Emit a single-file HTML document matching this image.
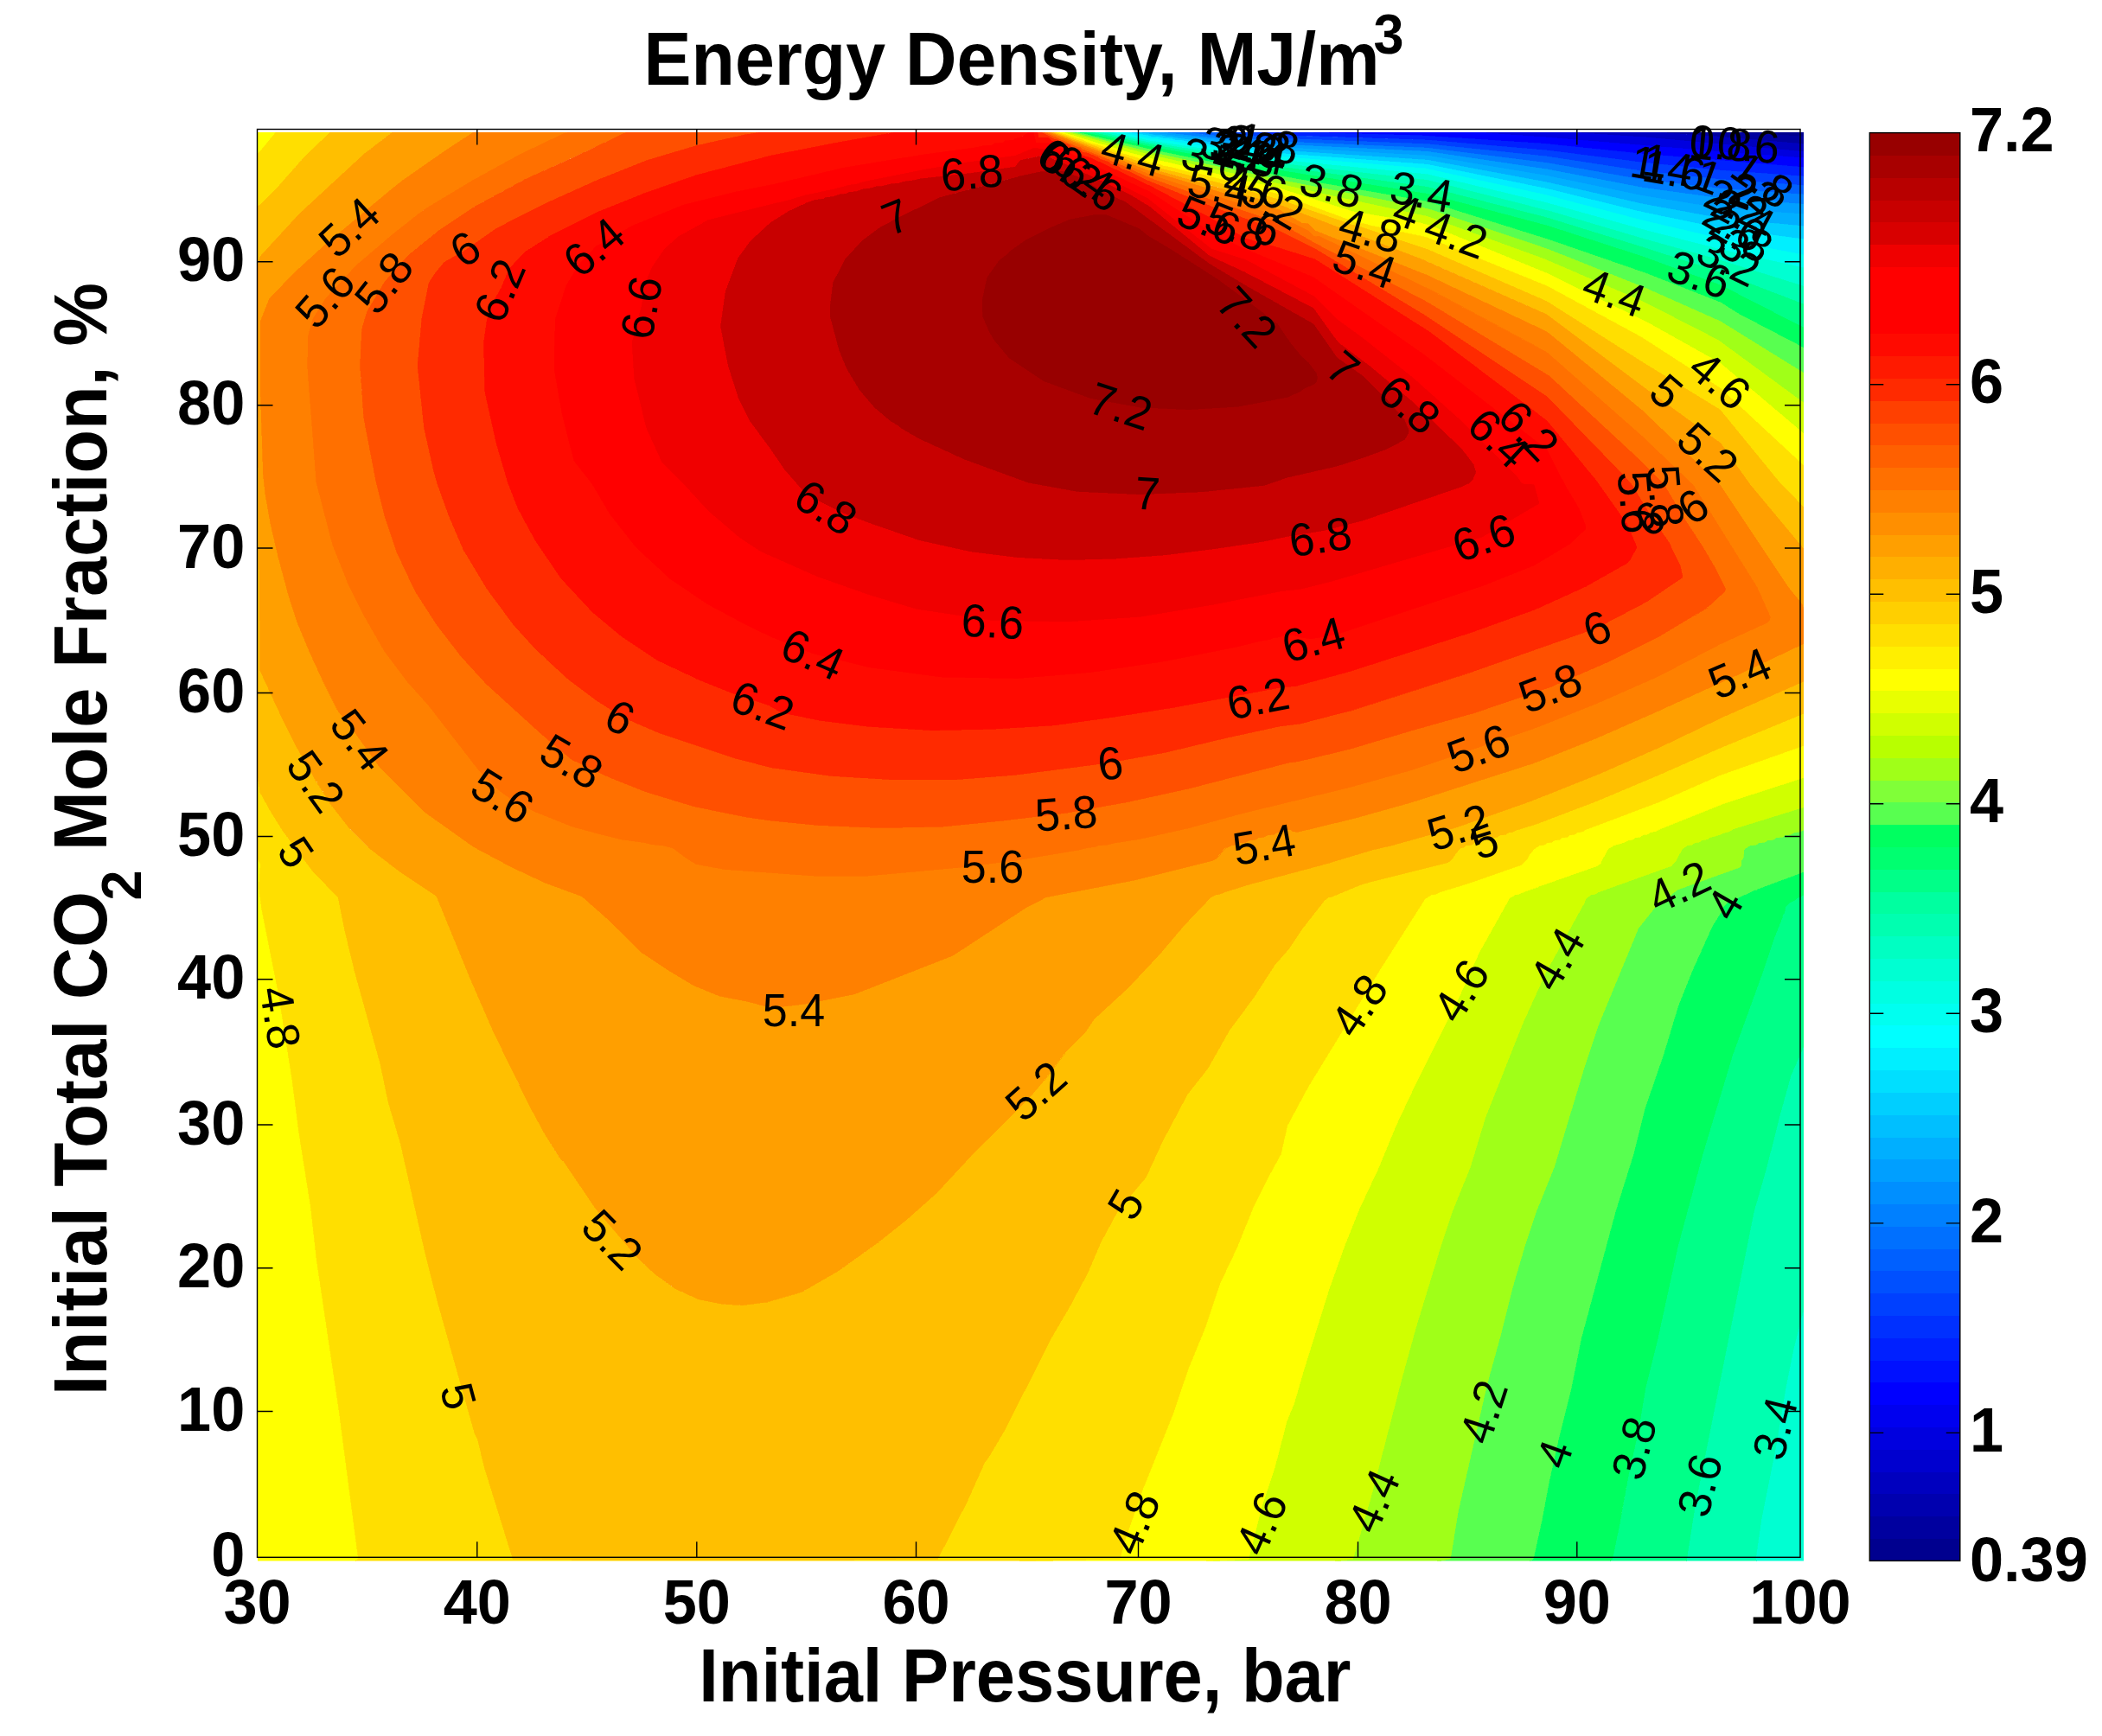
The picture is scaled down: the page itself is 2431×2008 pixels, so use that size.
<!DOCTYPE html><html><head><meta charset="utf-8"><title>Energy Density</title>
<style>html,body{margin:0;padding:0;background:#fff}svg{display:block}text{font-family:"Liberation Sans",sans-serif;fill:#000}.b{font-weight:bold}</style></head><body>
<svg width="2431" height="2008" viewBox="0 0 2431 2008">
<rect width="2431" height="2008" fill="#fff"/>
<clipPath id="cp"><rect x="298.0" y="153.0" width="1788.0" height="1652.5"/></clipPath>
<g clip-path="url(#cp)" shape-rendering="crispEdges">
<path fill="#00008f" stroke="#00008f" stroke-width="0.7" fill-rule="evenodd" d="M1999.0 147.0 2092.0 147.0 2092.0 162.0 2091.9 159.0 2089.0 157.0 2086.0 158.2 2009.6 153.0 2010.7 150.0 2008.0 148.0Z"/>
<path fill="#00009f" stroke="#00009f" stroke-width="0.7" fill-rule="evenodd" d="M1906.0 147.0 1999.0 147.0 2008.0 148.0 2010.7 150.0 2009.6 153.0 2086.0 158.2 2089.0 157.0 2091.9 159.0 2092.0 171.0 2091.7 168.0 2089.0 166.9 1981.0 157.6 1914.2 153.0 1906.0 147.8Z"/>
<path fill="#0000bf" stroke="#0000bf" stroke-width="0.7" fill-rule="evenodd" d="M1794.1 150.0 1801.0 149.8 1804.0 147.0 1906.0 147.0 1906.0 147.8 1915.0 153.1 1981.0 157.6 2089.0 166.9 2091.7 168.0 2092.0 177.0 2089.0 179.0 2086.0 175.5 1904.2 159.0 1813.6 153.0Z"/>
<path fill="#0000df" stroke="#0000df" stroke-width="0.7" fill-rule="evenodd" d="M1663.6 150.0 1687.0 149.5 1690.0 147.0 1804.0 147.0 1801.0 149.8 1794.1 150.0 1813.6 153.0 1904.2 159.0 2086.0 175.5 2089.0 179.0 2092.0 177.0 2092.0 186.0 2089.8 189.0 2089.0 196.8 2086.0 182.8 1990.0 175.7 1795.0 159.5Z"/>
<path fill="#0000ff" stroke="#0000ff" stroke-width="0.7" fill-rule="evenodd" d="M1495.0 147.0 1690.0 147.0 1687.0 149.5 1663.6 150.0 1795.0 159.5 1990.0 175.7 2086.0 182.8 2089.0 196.8 2089.8 189.0 2092.0 186.0 2092.0 198.0 2090.3 201.0 2089.0 222.8 2087.8 204.0 2086.0 193.6 1900.0 178.1 1786.0 166.3 1642.0 156.8 1499.9 153.0 1543.0 152.0 1560.9 150.0 1558.0 147.7 1555.0 147.4Z"/>
<path fill="#0020ff" stroke="#0020ff" stroke-width="0.7" fill-rule="evenodd" d="M1444.0 147.0 1555.0 147.4 1558.0 147.7 1560.9 150.0 1543.0 152.0 1499.9 153.0 1642.0 156.8 1786.0 166.3 1900.0 178.1 2086.0 193.6 2087.8 204.0 2089.0 222.8 2090.3 201.0 2092.0 198.0 2092.0 207.0 2090.8 210.0 2090.0 222.0 2089.0 262.1 2088.0 225.0 2086.0 204.1 1990.0 197.1 1900.0 188.1 1789.0 174.0 1651.0 162.1 1477.0 156.1 1449.4 153.0 1484.7 150.0 1483.0 148.1Z"/>
<path fill="#0040ff" stroke="#0040ff" stroke-width="0.7" fill-rule="evenodd" d="M1393.0 147.0 1480.0 147.5 1483.0 148.1 1484.7 150.0 1449.4 153.0 1483.0 156.6 1651.0 162.1 1789.0 174.0 1900.0 188.1 1990.0 197.1 2086.0 204.1 2088.0 225.0 2089.0 262.1 2090.0 222.0 2090.8 210.0 2092.0 207.0 2092.0 219.0 2091.0 222.0 2090.0 243.0 2089.0 302.9 2088.0 246.0 2086.0 214.6 1990.0 207.6 1900.0 198.1 1789.0 181.0 1651.0 166.7 1480.0 160.1 1399.9 153.0 1408.4 150.0 1405.0 147.7ZM2089.0 350.2 2089.3 390.0 2089.0 536.7 2088.7 390.0Z"/>
<path fill="#0060ff" stroke="#0060ff" stroke-width="0.7" fill-rule="evenodd" d="M1332.1 150.0 1363.0 149.1 1366.0 147.0 1402.0 147.4 1405.0 147.7 1408.4 150.0 1399.9 153.0 1480.0 160.1 1651.0 166.7 1789.0 181.0 1900.0 198.1 1990.0 207.6 2086.0 214.6 2088.0 246.0 2089.0 302.9 2090.0 243.0 2091.0 222.0 2092.0 219.0 2090.3 255.0 2089.2 327.0 2089.0 654.1 2088.8 327.0 2087.6 255.0 2086.0 225.1 1990.0 218.2 1900.0 208.0 1789.0 188.5 1651.0 171.2 1480.0 163.8 1399.0 156.6 1360.0 151.5ZM2089.0 350.2 2088.7 390.0 2089.0 536.7Z"/>
<path fill="#0080ff" stroke="#0080ff" stroke-width="0.7" fill-rule="evenodd" d="M1255.9 150.0 1309.0 149.4 1339.0 148.4 1342.0 147.0 1366.0 147.0 1363.0 149.1 1332.1 150.0 1357.0 151.2 1399.0 156.6 1480.0 163.8 1651.0 171.2 1789.0 188.5 1900.0 208.0 1990.0 218.2 2086.0 225.1 2087.6 255.0 2088.8 327.0 2089.0 654.1 2089.2 327.0 2090.3 255.0 2092.0 228.0 2089.6 327.0 2089.0 771.4 2088.4 327.0 2086.0 236.2 1990.0 229.6 1900.0 217.2 1789.0 195.9 1651.0 175.4 1480.0 167.1 1399.0 159.4 1333.0 151.9 1306.0 150.6Z"/>
<path fill="#009fff" stroke="#009fff" stroke-width="0.7" fill-rule="evenodd" d="M1180.0 150.0 1288.0 149.2 1318.0 148.1 1321.0 147.0 1342.0 147.0 1339.0 148.4 1255.9 150.0 1306.0 150.6 1333.0 151.9 1399.0 159.4 1480.0 167.1 1651.0 175.4 1789.0 195.9 1900.0 217.2 1990.0 229.6 2086.0 236.2 2088.4 327.0 2089.0 771.4 2089.6 327.0 2090.8 255.0 2092.0 240.0 2090.0 327.0 2089.0 888.7 2088.0 327.0 2086.0 247.8 1990.0 241.1 1900.0 226.6 1789.0 203.4 1651.0 180.2 1480.0 170.5 1312.0 151.7 1267.0 150.5Z"/>
<path fill="#00afff" stroke="#00afff" stroke-width="0.7" fill-rule="evenodd" d="M1103.4 150.0 1267.0 149.1 1321.0 147.0 1318.0 148.1 1300.0 149.0 1179.6 150.0 1267.0 150.5 1312.0 151.7 1480.0 170.5 1651.0 180.2 1789.0 203.4 1900.0 226.6 1990.0 241.1 2086.0 247.8 2088.0 327.0 2089.0 888.7 2090.0 327.0 2091.0 270.0 2092.0 252.0 2090.3 342.0 2089.0 1006.0 2087.6 327.0 2086.0 261.7 1990.0 252.6 1900.0 236.1 1789.0 210.9 1651.0 185.2 1480.0 174.0 1360.0 159.8 1354.0 158.2 1348.0 158.1 1342.0 156.6 1336.0 156.6 1330.0 155.1 1306.0 152.2 1231.0 150.4Z"/>
<path fill="#00cfff" stroke="#00cfff" stroke-width="0.7" fill-rule="evenodd" d="M1027.1 150.0 1210.0 149.6 1312.0 147.0 1300.0 148.3 1267.0 149.1 1201.0 149.8 1103.4 150.0 1231.0 150.4 1306.0 152.2 1330.0 155.1 1336.0 156.6 1342.0 156.6 1348.0 158.1 1354.0 158.2 1360.0 159.8 1480.0 174.0 1651.0 185.2 1789.0 210.9 1900.0 236.1 1990.0 252.6 2086.0 261.7 2087.6 327.0 2088.4 615.0 2089.0 1006.0 2090.3 342.0 2090.7 303.0 2092.0 267.0 2090.8 321.0 2090.1 483.0 2089.0 1123.3 2087.8 477.0 2087.2 327.0 2086.0 276.8 1990.0 264.1 1900.0 245.6 1789.0 218.4 1651.0 190.3 1480.0 177.5 1372.0 163.7 1366.0 162.2 1360.0 162.2 1354.0 160.6 1345.0 160.1 1339.0 158.4 1333.0 158.7 1327.0 156.8 1300.0 152.6 1207.0 150.4Z"/>
<path fill="#00efff" stroke="#00efff" stroke-width="0.7" fill-rule="evenodd" d="M950.9 150.0 1201.0 149.5 1303.0 147.0 1276.0 148.4 1210.0 149.6 1027.1 150.0 1207.0 150.4 1267.0 151.4 1300.0 152.6 1327.0 156.8 1333.0 158.7 1339.0 158.4 1345.0 160.1 1354.0 160.6 1360.0 162.2 1366.0 162.2 1372.0 163.7 1480.0 177.5 1651.0 190.3 1789.0 218.4 1900.0 245.6 1990.0 264.1 2086.0 276.8 2087.2 327.0 2087.8 477.0 2089.0 1123.3 2089.8 609.0 2090.6 342.0 2092.0 285.0 2090.2 519.0 2089.0 1240.6 2087.8 537.0 2086.0 295.0 1990.0 276.2 1900.0 255.1 1786.0 225.2 1648.6 195.0 1480.0 181.1 1372.0 166.4 1351.0 162.7 1345.0 162.8 1339.0 161.0 1330.0 160.6 1294.8 153.0 1201.0 150.5Z"/>
<path fill="#00fff0" stroke="#00fff0" stroke-width="0.7" fill-rule="evenodd" d="M874.6 150.0 1201.0 149.3 1291.0 147.0 1201.0 149.5 950.9 150.0 1201.0 150.5 1261.0 151.7 1294.8 153.0 1330.0 160.6 1339.0 161.0 1345.0 162.8 1351.0 162.7 1372.0 166.4 1480.0 181.1 1648.6 195.0 1786.0 225.2 1900.0 255.1 1990.0 276.2 2086.0 295.0 2087.0 351.0 2087.8 537.0 2089.0 1240.6 2090.2 519.0 2091.0 342.0 2092.0 300.0 2090.3 561.0 2090.4 1155.0 2089.0 1357.9 2087.7 1146.0 2087.6 540.0 2086.0 309.9 1990.0 288.7 1900.0 265.6 1789.0 234.8 1651.0 201.8 1480.0 185.1 1330.0 163.0 1282.9 153.0 1198.0 150.6Z"/>
<path fill="#00ffd2" stroke="#00ffd2" stroke-width="0.7" fill-rule="evenodd" d="M798.3 150.0 1195.0 149.2 1279.0 147.0 1201.0 149.3 874.6 150.0 1198.0 150.6 1234.0 151.3 1282.9 153.0 1330.0 163.0 1480.0 185.1 1651.0 201.8 1789.0 234.8 1900.0 265.6 1990.0 288.7 2086.0 309.9 2086.7 357.0 2087.6 540.0 2088.0 744.0 2087.7 1146.0 2089.0 1357.9 2090.4 1155.0 2089.9 765.0 2090.3 561.0 2091.1 366.0 2092.0 318.0 2090.2 663.0 2091.2 1155.0 2089.7 1443.0 2092.0 1446.0 2092.0 1812.0 1993.0 1812.0 2032.0 1811.4 2035.0 1810.8 2036.8 1809.0 2031.5 1806.0 2030.4 1803.0 2036.9 1758.0 2054.3 1671.0 2064.6 1608.0 2074.0 1561.1 2086.0 1512.5 2086.5 1569.0 2089.0 1607.9 2090.7 1605.0 2091.4 1599.0 2091.7 1488.0 2091.2 1479.0 2089.0 1475.3 2088.0 1467.0 2087.1 1413.0 2087.8 702.0 2086.0 331.2 1987.0 300.3 1900.0 276.1 1792.0 244.2 1651.0 208.5 1480.0 189.1 1330.0 165.0 1271.9 153.0 1195.0 150.8Z"/>
<path fill="#00ffb0" stroke="#00ffb0" stroke-width="0.7" fill-rule="evenodd" d="M722.1 150.0 1195.0 149.1 1270.0 147.0 1195.0 149.2 798.3 150.0 1195.0 150.8 1231.0 151.5 1271.9 153.0 1330.0 165.0 1480.0 189.1 1651.0 208.5 1792.0 244.2 1900.0 276.1 1987.0 300.3 2086.0 331.2 2087.1 456.0 2087.8 702.0 2087.1 1413.0 2088.0 1467.0 2089.0 1475.3 2091.2 1479.0 2091.7 1488.0 2091.5 1596.0 2090.7 1605.0 2089.0 1607.9 2086.5 1569.0 2086.0 1512.5 2074.0 1561.1 2064.6 1608.0 2054.3 1671.0 2036.9 1758.0 2030.4 1803.0 2031.5 1806.0 2036.8 1809.0 2035.0 1810.8 2020.0 1811.8 1909.0 1812.0 1921.0 1810.5 1922.9 1809.0 1950.2 1806.0 1960.5 1740.0 2028.4 1401.0 2042.3 1353.0 2058.3 1290.0 2071.0 1244.2 2086.0 1210.1 2087.7 744.0 2086.0 352.0 1990.0 315.2 1897.0 285.2 1789.0 251.9 1651.0 216.4 1480.0 193.0 1327.0 166.6 1261.9 153.0 1195.0 150.9ZM2092.0 339.0 2090.3 726.0 2091.4 1152.0 2092.0 1155.0 2092.0 1446.0 2089.7 1443.0 2091.2 1155.0 2090.7 1152.0 2090.2 663.0Z"/>
<path fill="#00ff88" stroke="#00ff88" stroke-width="0.7" fill-rule="evenodd" d="M646.0 150.0 1195.0 148.9 1258.0 147.0 1195.0 149.1 722.1 150.0 1195.0 150.9 1231.0 151.8 1261.9 153.0 1327.0 166.6 1480.0 193.0 1651.0 216.4 1789.0 251.9 1897.0 285.2 1990.0 315.2 2086.0 352.0 2087.1 507.0 2087.7 744.0 2086.0 1210.1 2071.0 1244.2 2058.3 1290.0 2042.3 1353.0 2028.4 1401.0 1960.5 1740.0 1950.2 1806.0 1922.9 1809.0 1921.0 1810.5 1909.0 1812.0 1822.0 1812.0 1819.0 1810.1 1683.0 1809.0 1843.0 1806.8 1862.5 1806.0 1864.7 1803.0 1874.6 1755.0 1883.1 1707.0 1894.4 1656.0 1903.0 1605.0 1917.2 1548.0 1940.0 1443.0 1969.1 1335.0 2003.4 1221.0 2037.2 1128.0 2052.5 1083.0 2061.0 1062.0 2061.4 1059.0 2063.5 1056.0 2065.0 1048.9 2069.7 1044.0 2077.0 1040.3 2080.0 1037.6 2083.0 1037.1 2086.0 1034.6 2087.5 744.0 2086.0 379.2 1990.0 330.0 1900.3 297.0 1789.0 261.0 1651.0 224.4 1480.0 197.2 1327.0 169.1 1251.9 153.0 1195.0 151.1ZM2092.0 363.0 2090.5 726.0 2092.0 1155.0 2091.4 1152.0 2090.3 726.0Z"/>
<path fill="#00ff60" stroke="#00ff60" stroke-width="0.7" fill-rule="evenodd" d="M569.6 150.0 757.0 149.4 1195.0 148.8 1249.0 147.0 1195.0 148.9 645.8 150.0 1195.0 151.1 1231.0 152.0 1251.9 153.0 1327.0 169.1 1480.0 197.2 1651.0 224.4 1789.0 261.0 1900.3 297.0 1990.0 330.0 2086.0 379.2 2087.0 537.0 2087.5 744.0 2086.7 981.0 2086.0 1034.6 2083.0 1037.1 2080.0 1037.6 2077.0 1040.3 2069.7 1044.0 2065.0 1048.9 2063.5 1056.0 2061.4 1059.0 2061.0 1062.0 2052.5 1083.0 2037.2 1128.0 2003.4 1221.0 1969.1 1335.0 1940.0 1443.0 1917.2 1548.0 1903.0 1605.0 1894.4 1656.0 1883.1 1707.0 1873.0 1762.9 1864.7 1803.0 1862.5 1806.0 1795.0 1807.9 1683.0 1809.0 1819.0 1810.1 1822.0 1812.0 1729.0 1812.0 1726.0 1810.6 1430.3 1809.0 1738.0 1806.6 1769.0 1806.0 1773.3 1803.0 1783.0 1758.6 1791.6 1713.0 1803.0 1662.0 1817.2 1605.0 1828.6 1548.0 1868.3 1401.0 1889.0 1335.0 1902.6 1281.0 1923.3 1221.0 1940.6 1164.0 1957.4 1122.0 1973.5 1086.0 1980.4 1071.0 1991.6 1053.0 1993.0 1048.9 1998.0 1044.0 2002.0 1043.1 2004.4 1041.0 2030.5 1029.0 2086.0 1008.4 2087.3 744.0 2086.0 402.4 2011.0 363.3 1990.0 350.0 1903.0 316.0 1792.0 277.6 1651.0 233.3 1482.2 204.0 1335.0 174.0 1245.0 153.0 1195.0 151.2ZM2092.0 390.0 2090.7 726.0 2092.0 1023.0 2090.5 726.0Z"/>
<path fill="#58ff50" stroke="#58ff50" stroke-width="0.7" fill-rule="evenodd" d="M493.3 150.0 679.0 149.2 1195.0 148.6 1243.0 147.0 1195.0 148.8 569.6 150.0 1195.0 151.2 1213.0 151.6 1245.0 153.0 1335.0 174.0 1482.2 204.0 1651.0 233.3 1792.0 277.6 1903.0 316.0 1990.0 350.0 2011.0 363.3 2086.0 402.4 2086.8 540.0 2087.3 744.0 2086.8 900.0 2086.0 1008.4 2030.5 1029.0 2004.4 1041.0 2002.0 1043.1 1998.0 1044.0 1993.0 1048.9 1991.6 1053.0 1980.4 1071.0 1973.5 1086.0 1957.4 1122.0 1940.6 1164.0 1923.3 1221.0 1902.6 1281.0 1889.0 1335.0 1868.3 1401.0 1828.6 1548.0 1817.2 1605.0 1803.0 1662.0 1791.6 1713.0 1783.0 1758.6 1773.3 1803.0 1769.0 1806.0 1738.0 1806.6 1430.3 1809.0 1726.0 1810.6 1729.0 1812.0 1177.7 1809.0 1639.0 1806.3 1662.4 1806.0 1677.4 1803.0 1686.1 1749.0 1719.5 1602.0 1734.4 1548.0 1748.7 1491.0 1762.8 1443.0 1777.0 1400.4 1797.4 1350.0 1831.7 1236.0 1848.8 1185.0 1894.6 1074.0 1913.6 1050.0 1940.2 1029.0 2011.0 1003.5 2013.4 1002.0 2014.0 995.4 2015.9 993.0 2017.0 983.1 2018.8 981.0 2024.1 978.0 2032.0 976.9 2033.9 975.0 2041.0 974.2 2043.9 972.0 2050.0 971.4 2054.4 969.0 2062.0 968.0 2064.1 966.0 2071.0 965.3 2074.6 963.0 2083.0 961.7 2086.0 959.7 2087.1 744.0 2086.0 431.5 1990.0 372.0 1900.0 332.0 1789.4 288.0 1655.6 243.0 1645.0 240.1 1480.0 208.1 1330.0 176.0 1239.1 153.0 1195.0 151.4ZM2092.0 414.0 2090.9 726.0 2092.0 996.0 2090.7 726.0Z"/>
<path fill="#a0ff18" stroke="#a0ff18" stroke-width="0.7" fill-rule="evenodd" d="M417.1 150.0 583.0 149.1 1195.0 148.5 1237.0 147.0 1195.0 148.6 493.3 150.0 1195.0 151.4 1210.0 151.7 1239.1 153.0 1330.0 176.0 1480.0 208.1 1645.0 240.1 1655.6 243.0 1789.4 288.0 1900.0 332.0 1990.0 372.0 2086.0 431.5 2086.7 561.0 2087.1 744.0 2086.0 959.7 2083.0 961.7 2074.6 963.0 2071.0 965.3 2064.1 966.0 2062.0 968.0 2054.4 969.0 2050.0 971.4 2043.9 972.0 2041.0 974.2 2033.9 975.0 2032.0 976.9 2024.1 978.0 2018.8 981.0 2017.0 983.1 2015.9 993.0 2014.0 995.4 2013.4 1002.0 2011.0 1003.5 1940.2 1029.0 1913.6 1050.0 1894.6 1074.0 1848.8 1185.0 1831.7 1236.0 1797.4 1350.0 1777.0 1400.4 1762.8 1443.0 1748.7 1491.0 1734.4 1548.0 1719.5 1602.0 1686.1 1749.0 1677.4 1803.0 1662.4 1806.0 1639.0 1806.3 1177.7 1809.0 1621.0 1810.9 1624.0 1812.0 925.0 1809.0 1534.0 1806.1 1543.7 1806.0 1564.8 1803.0 1585.6 1731.0 1621.5 1593.0 1637.3 1536.0 1666.6 1440.0 1679.6 1401.0 1700.3 1350.0 1717.6 1293.0 1760.4 1185.0 1787.6 1125.0 1832.4 1044.0 1834.0 1039.4 1840.1 1035.0 1846.0 1033.9 1848.2 1032.0 1933.0 1001.5 1938.2 996.0 1945.0 982.6 1951.2 978.0 1957.0 977.1 1960.0 974.8 1966.0 973.9 1968.0 972.0 1975.0 970.6 1976.6 969.0 1990.0 965.2 1993.5 963.0 1999.0 962.1 2005.0 958.7 2086.0 933.6 2086.9 744.0 2086.0 466.0 1987.0 393.4 1900.0 348.8 1786.7 300.0 1651.0 250.5 1540.0 226.5 1330.0 179.2 1233.9 153.0 1195.0 151.5ZM2092.0 447.0 2091.0 726.0 2092.0 948.0 2090.9 726.0Z"/>
<path fill="#d0ff00" stroke="#d0ff00" stroke-width="0.7" fill-rule="evenodd" d="M340.8 150.0 487.0 148.8 1195.0 148.3 1234.0 147.0 1195.0 148.5 417.1 150.0 1195.0 151.5 1210.0 151.9 1233.9 153.0 1330.0 179.2 1540.0 226.5 1651.0 250.5 1786.7 300.0 1900.0 348.8 1987.0 393.4 2086.0 466.0 2086.9 744.0 2086.0 933.6 2005.0 958.7 1999.0 962.1 1993.5 963.0 1990.0 965.2 1976.6 969.0 1975.0 970.6 1968.0 972.0 1966.0 973.9 1960.0 974.8 1957.0 977.1 1951.2 978.0 1945.0 982.6 1938.2 996.0 1933.0 1001.5 1848.2 1032.0 1846.0 1033.9 1840.1 1035.0 1834.0 1039.4 1832.4 1044.0 1787.6 1125.0 1760.4 1185.0 1717.6 1293.0 1700.3 1350.0 1679.6 1401.0 1666.6 1440.0 1637.3 1536.0 1621.5 1593.0 1585.6 1731.0 1564.8 1803.0 1543.7 1806.0 1534.0 1806.1 925.0 1809.0 1504.0 1811.1 1507.0 1812.0 672.3 1809.0 1394.6 1806.0 1444.0 1803.0 1459.1 1743.0 1474.0 1698.0 1488.1 1644.0 1496.7 1623.0 1508.0 1584.0 1537.1 1491.0 1555.3 1440.0 1572.2 1398.0 1594.0 1351.4 1614.4 1302.0 1637.0 1254.0 1686.6 1155.0 1711.0 1101.0 1746.3 1038.0 1750.0 1036.8 1751.8 1035.0 1756.0 1034.4 1760.5 1032.0 1846.0 1002.0 1851.1 999.0 1851.9 996.0 1860.4 981.0 1864.0 979.8 1865.8 978.0 1879.0 974.3 1882.8 972.0 1888.0 971.2 1891.0 968.9 1897.0 968.0 1900.0 965.7 1906.0 964.8 1909.0 962.6 1915.0 961.5 1916.5 960.0 1990.0 930.5 2086.0 899.4 2086.7 744.0 2086.0 501.5 1990.0 420.4 1906.0 373.4 1789.0 316.2 1654.3 261.0 1642.6 258.0 1564.0 244.7 1482.9 219.0 1333.0 183.9 1297.0 174.2 1279.0 167.9 1273.0 166.8 1228.7 153.0 1195.0 151.7 520.0 151.2ZM2092.0 480.0 2091.2 726.0 2092.0 918.0 2091.0 726.0Z"/>
<path fill="#ffff00" stroke="#ffff00" stroke-width="0.7" fill-rule="evenodd" d="M292.0 147.0 346.0 147.0 349.0 148.4 412.0 148.5 1195.0 148.2 1228.0 147.0 1195.0 148.3 487.0 148.8 340.8 150.0 520.0 151.2 1195.0 151.7 1207.0 152.0 1228.7 153.0 1273.0 166.8 1279.0 167.9 1297.0 174.2 1333.0 183.9 1482.9 219.0 1564.0 244.7 1642.6 258.0 1654.3 261.0 1789.0 316.2 1906.0 373.4 1990.0 420.4 2086.0 501.5 2086.7 744.0 2086.0 899.4 1990.0 930.5 1916.5 960.0 1915.0 961.5 1909.0 962.6 1906.0 964.8 1900.0 965.7 1897.0 968.0 1891.0 968.9 1888.0 971.2 1882.8 972.0 1879.0 974.3 1865.8 978.0 1864.0 979.8 1860.4 981.0 1851.9 996.0 1851.1 999.0 1846.0 1002.0 1760.5 1032.0 1756.0 1034.4 1751.8 1035.0 1750.0 1036.8 1746.3 1038.0 1711.0 1101.0 1686.6 1155.0 1637.0 1254.0 1614.4 1302.0 1594.0 1351.4 1572.2 1398.0 1555.3 1440.0 1537.1 1491.0 1508.0 1584.0 1496.7 1623.0 1488.1 1644.0 1474.0 1698.0 1459.1 1743.0 1444.0 1803.0 1394.6 1806.0 672.3 1809.0 1369.0 1811.2 1372.0 1812.0 499.0 1809.7 496.0 1812.0 292.0 1812.0 292.0 968.7 295.9 972.0 297.6 993.0 301.3 999.0 299.6 1026.0 302.5 1050.0 322.7 1152.0 338.3 1251.0 345.5 1308.0 359.3 1395.0 366.4 1458.0 391.8 1629.0 414.5 1803.0 410.9 1806.0 469.0 1807.9 982.0 1806.8 1179.1 1806.0 1295.1 1803.0 1301.8 1779.0 1321.8 1722.0 1356.7 1635.0 1373.9 1584.0 1393.6 1536.0 1410.7 1485.0 1430.5 1443.0 1448.7 1398.0 1468.1 1359.0 1481.3 1335.0 1488.7 1302.0 1512.9 1257.0 1597.5 1119.0 1648.0 1039.7 1655.4 1035.0 1660.0 1034.3 1664.7 1032.0 1699.0 1021.5 1759.0 1000.5 1766.8 993.0 1767.8 990.0 1774.0 982.0 1780.3 978.0 1786.0 977.3 1789.0 974.9 1795.0 974.2 1797.6 972.0 1804.0 971.1 1806.3 969.0 1813.0 968.0 1815.0 966.0 1822.0 964.9 1823.9 963.0 1831.0 961.7 1832.7 960.0 1918.0 927.9 1990.0 896.3 2086.0 862.4 2086.0 538.7 1990.0 449.4 1898.2 390.0 1789.0 330.9 1651.0 275.0 1584.5 261.0 1579.0 259.1 1569.8 258.0 1480.0 225.1 1393.0 202.6 1372.0 198.4 1354.0 193.4 1345.0 192.1 1342.0 190.4 1330.0 188.5 1312.0 181.5 1294.0 176.7 1289.0 174.0 1282.0 172.5 1276.0 169.8 1258.0 164.8 1252.0 162.1 1225.0 153.6 1195.0 151.8 451.0 151.7 322.0 152.8 319.2 153.0 301.0 175.0 295.7 180.0 295.1 204.0 292.0 204.0ZM2092.0 516.0 2091.4 726.0 2092.0 882.0 2091.2 726.0Z"/>
<path fill="#ffdf00" stroke="#ffdf00" stroke-width="0.7" fill-rule="evenodd" d="M346.0 147.0 760.0 148.2 1195.0 148.0 1222.0 147.0 1195.0 148.2 412.0 148.5 349.0 148.4ZM319.2 153.0 451.0 151.7 1195.0 151.8 1216.0 152.6 1225.0 153.6 1252.0 162.1 1258.0 164.8 1276.0 169.8 1282.0 172.5 1289.0 174.0 1294.0 176.7 1312.0 181.5 1330.0 188.5 1342.0 190.4 1345.0 192.1 1354.0 193.4 1372.0 198.4 1393.0 202.6 1480.0 225.1 1569.8 258.0 1579.0 259.1 1584.5 261.0 1651.0 275.0 1789.0 330.9 1898.2 390.0 1990.0 449.4 2086.0 538.7 2086.6 744.0 2086.0 862.4 1990.0 896.3 1918.0 927.9 1832.7 960.0 1831.0 961.7 1823.9 963.0 1822.0 964.9 1815.0 966.0 1813.0 968.0 1806.3 969.0 1804.0 971.1 1797.6 972.0 1795.0 974.2 1789.0 974.9 1786.0 977.3 1780.3 978.0 1774.0 982.0 1767.8 990.0 1766.8 993.0 1759.0 1000.5 1699.0 1021.5 1664.7 1032.0 1660.0 1034.3 1655.4 1035.0 1648.0 1039.7 1597.5 1119.0 1512.9 1257.0 1488.7 1302.0 1481.3 1335.0 1468.1 1359.0 1448.7 1398.0 1430.5 1443.0 1410.7 1485.0 1393.6 1536.0 1373.9 1584.0 1356.7 1635.0 1321.8 1722.0 1301.8 1779.0 1295.1 1803.0 1179.1 1806.0 982.0 1806.8 469.0 1807.9 410.9 1806.0 414.5 1803.0 391.8 1629.0 366.4 1458.0 359.3 1395.0 345.5 1308.0 338.3 1251.0 322.7 1152.0 302.5 1050.0 299.6 1026.0 301.3 999.0 297.6 993.0 295.9 972.0 292.0 968.7 292.0 870.0 295.2 870.0 295.7 891.0 296.1 894.0 298.0 896.9 301.0 916.8 313.4 939.0 328.4 963.0 361.0 1006.7 391.1 1038.0 399.0 1077.0 410.6 1125.0 439.8 1230.0 449.2 1275.0 463.4 1323.0 491.7 1449.0 506.2 1506.0 549.3 1659.0 552.5 1665.0 560.5 1698.0 593.1 1803.0 667.0 1804.1 979.0 1804.1 1084.6 1803.0 1118.4 1737.0 1138.5 1692.0 1143.1 1686.0 1162.0 1654.0 1215.6 1548.0 1237.0 1511.4 1258.0 1472.2 1273.0 1437.0 1292.5 1401.0 1325.1 1362.0 1344.5 1320.0 1373.1 1266.0 1396.7 1236.0 1422.2 1191.0 1449.1 1155.0 1474.3 1116.0 1490.2 1098.0 1506.3 1074.0 1532.1 1041.0 1536.4 1038.0 1540.0 1037.3 1576.0 1022.4 1675.0 997.4 1679.9 993.0 1683.7 987.0 1689.2 981.0 1693.0 980.1 1695.2 978.0 1702.0 977.3 1705.1 975.0 1711.0 974.4 1715.4 972.0 1723.0 970.9 1724.9 969.0 1732.0 968.1 1734.7 966.0 1741.0 965.3 1745.0 963.0 1750.0 962.3 1753.0 960.4 1777.0 953.0 1846.0 926.8 1918.0 896.5 1990.0 864.8 2086.0 825.3 2086.0 586.6 2059.0 559.3 1989.3 474.0 1901.1 420.0 1789.0 348.7 1648.0 287.5 1568.7 261.0 1564.0 260.2 1480.0 231.1 1403.3 210.0 1330.0 192.0 1300.0 180.8 1219.0 153.0 1195.0 152.0 724.0 151.9 382.0 153.0 350.6 183.0 322.0 215.7 301.0 236.7 295.9 240.0 295.1 264.0 292.0 264.0 292.0 204.0 295.1 204.0 295.7 180.0 301.0 175.0ZM2092.0 558.0 2091.6 726.0 2092.0 846.0 2091.4 726.0ZM499.0 1809.7 1195.0 1811.3 1198.0 1812.0 496.0 1812.0Z"/>
<path fill="#ffbf00" stroke="#ffbf00" stroke-width="0.7" fill-rule="evenodd" d="M409.0 147.0 892.0 148.0 1195.0 147.9 1219.0 147.0 1195.0 148.0 760.0 148.2 412.0 147.8ZM382.0 153.0 724.0 151.9 1195.0 152.0 1207.0 152.3 1219.0 153.0 1300.0 180.8 1330.0 192.0 1403.3 210.0 1480.0 231.1 1564.0 260.2 1568.7 261.0 1651.0 288.6 1789.0 348.7 1901.1 420.0 1989.3 474.0 2059.0 559.3 2086.0 586.6 2086.4 744.0 2086.0 825.3 1990.0 864.8 1918.0 896.5 1846.0 926.8 1777.0 953.0 1753.0 960.4 1750.0 962.3 1745.0 963.0 1741.0 965.3 1734.7 966.0 1732.0 968.1 1724.9 969.0 1723.0 970.9 1715.4 972.0 1711.0 974.4 1705.1 975.0 1702.0 977.3 1695.2 978.0 1693.0 980.1 1689.2 981.0 1683.7 987.0 1679.9 993.0 1675.0 997.4 1576.0 1022.4 1540.0 1037.3 1536.4 1038.0 1532.1 1041.0 1506.3 1074.0 1490.2 1098.0 1474.3 1116.0 1449.1 1155.0 1422.2 1191.0 1396.7 1236.0 1373.1 1266.0 1344.5 1320.0 1325.1 1362.0 1292.5 1401.0 1273.0 1437.0 1258.0 1472.2 1237.0 1511.4 1215.6 1548.0 1162.0 1654.0 1143.1 1686.0 1138.5 1692.0 1118.4 1737.0 1084.6 1803.0 979.0 1804.1 667.0 1804.1 593.1 1803.0 560.5 1698.0 552.5 1665.0 549.3 1659.0 506.2 1506.0 491.7 1449.0 463.4 1323.0 449.2 1275.0 439.8 1230.0 410.6 1125.0 399.0 1077.0 391.1 1038.0 362.0 1008.0 328.0 962.3 313.4 939.0 301.0 916.8 298.0 896.9 296.1 894.0 295.2 870.0 292.0 870.0 292.0 726.0 295.0 726.0 297.0 723.0 298.0 421.8 301.0 776.0 328.0 834.1 341.4 861.0 365.5 903.0 385.0 933.5 405.9 960.0 427.0 981.0 463.0 1008.6 502.6 1035.0 505.5 1038.0 543.6 1131.0 571.0 1194.0 611.9 1278.0 629.8 1311.0 642.5 1332.0 648.5 1341.0 652.4 1344.0 688.9 1398.0 737.6 1455.0 756.6 1473.0 768.5 1482.0 781.6 1491.0 808.0 1502.8 838.0 1508.6 859.0 1509.7 886.0 1506.1 928.0 1494.0 973.0 1467.7 1015.0 1437.4 1048.0 1411.2 1083.1 1380.0 1124.9 1335.0 1189.0 1271.4 1207.0 1250.3 1231.0 1218.5 1255.0 1194.0 1265.1 1179.0 1304.3 1143.0 1342.0 1102.8 1368.8 1071.0 1400.2 1038.0 1406.2 1035.0 1411.0 1034.2 1415.7 1032.0 1444.6 1023.0 1534.2 999.0 1588.0 982.8 1609.1 978.0 1684.2 957.0 1771.0 926.4 1852.1 894.0 1920.1 864.0 1993.0 829.1 2086.0 788.1 2086.0 635.0 2024.3 561.0 1990.0 512.8 1900.0 447.3 1789.0 363.9 1651.0 302.7 1483.0 238.2 1402.0 214.6 1330.0 195.0 1216.0 153.0 1189.0 152.1 453.7 153.0 421.0 178.3 346.0 247.7 301.0 296.6 298.0 308.2 296.7 309.0 295.6 312.0 295.2 324.0 292.0 324.0 292.0 264.0 295.1 264.0 295.9 240.0 301.0 236.7 322.0 215.7 352.0 181.6ZM2092.0 606.0 2091.7 726.0 2092.0 807.0 2091.6 726.0ZM712.1 1812.0 964.0 1811.7 966.9 1812.0Z"/>
<path fill="#ff9f00" stroke="#ff9f00" stroke-width="0.7" fill-rule="evenodd" d="M487.0 147.0 1066.0 147.8 1195.0 147.7 1216.0 147.0 1195.0 147.9 892.0 148.0ZM454.0 153.0 1189.0 152.1 1216.0 153.0 1330.0 195.0 1480.0 237.1 1645.0 300.3 1789.0 363.9 1900.0 447.3 1990.0 512.8 2024.3 561.0 2086.0 635.0 2086.0 788.1 1993.0 829.1 1920.1 864.0 1852.1 894.0 1771.0 926.4 1684.2 957.0 1609.1 978.0 1588.0 982.8 1534.2 999.0 1444.6 1023.0 1415.7 1032.0 1411.0 1034.2 1406.2 1035.0 1400.2 1038.0 1368.8 1071.0 1342.0 1102.8 1304.3 1143.0 1265.1 1179.0 1255.0 1194.0 1231.0 1218.5 1207.0 1250.3 1189.0 1271.4 1124.9 1335.0 1083.1 1380.0 1048.0 1411.2 1015.5 1437.0 970.0 1469.7 927.9 1494.0 886.5 1506.0 859.0 1509.7 835.0 1508.3 808.0 1502.8 781.0 1490.6 757.0 1473.3 737.6 1455.0 688.9 1398.0 652.4 1344.0 648.5 1341.0 629.8 1311.0 613.0 1280.1 571.0 1194.0 543.6 1131.0 505.5 1038.0 502.6 1035.0 463.0 1008.6 427.0 981.0 403.3 957.0 384.7 933.0 364.0 900.5 343.0 863.8 327.9 834.0 301.0 776.0 298.0 421.8 297.0 723.0 295.0 726.0 292.0 726.0 292.0 495.0 295.0 498.0 296.4 495.0 296.4 468.0 295.7 396.0 295.0 393.1 292.0 393.1 292.0 324.0 295.2 324.0 295.6 312.0 296.7 309.0 298.0 308.2 301.0 296.6 346.0 247.7 421.0 178.3ZM548.0 153.0 517.0 173.0 466.0 208.6 454.0 218.0 373.9 285.0 344.4 312.0 313.0 343.6 310.6 348.0 301.0 372.5 301.0 443.9 304.5 549.0 307.0 571.8 313.0 606.2 322.1 645.0 334.0 689.3 343.9 720.0 358.0 753.8 373.0 786.5 390.8 822.0 411.7 849.0 439.7 888.0 490.0 938.4 545.6 978.0 553.0 982.3 592.0 1003.1 631.0 1021.3 673.0 1036.7 704.9 1065.0 742.0 1101.7 775.0 1123.5 802.0 1139.7 832.0 1152.0 865.0 1158.4 892.0 1165.8 931.0 1161.2 988.0 1149.9 1102.0 1105.2 1186.3 1050.0 1210.0 1037.7 1312.0 1018.0 1402.0 995.6 1406.5 993.0 1417.0 980.5 1420.0 980.1 1423.7 978.0 1432.0 976.8 1434.1 975.0 1441.0 974.2 1445.1 972.0 1453.0 970.9 1455.4 969.0 1462.0 968.2 1466.3 966.0 1474.0 965.0 1476.8 963.0 1486.0 961.5 1489.0 959.6 1493.1 960.0 1495.0 961.6 1501.0 962.3 1567.0 946.3 1633.0 927.8 1774.0 882.6 1846.0 853.9 1915.0 823.6 2011.0 779.9 2086.0 744.5 2085.7 705.0 2084.2 699.0 2068.0 679.2 1989.3 561.0 1900.0 475.4 1818.6 408.0 1789.0 383.8 1651.0 318.6 1521.1 267.0 1513.0 258.8 1505.4 258.0 1480.0 243.1 1327.0 197.1 1213.0 153.0 1189.0 152.3ZM2092.0 660.0 2091.9 726.0 2092.0 768.0 2091.7 726.0Z"/>
<path fill="#ff8000" stroke="#ff8000" stroke-width="0.7" fill-rule="evenodd" d="M583.0 147.0 1066.0 147.6 1213.0 147.0 1195.0 147.7 1066.0 147.8ZM547.0 153.5 1189.0 152.3 1213.0 153.0 1327.0 197.1 1480.0 243.1 1505.4 258.0 1513.0 258.8 1521.1 267.0 1651.0 318.6 1789.0 383.8 1818.6 408.0 1900.0 475.4 1989.3 561.0 2068.0 679.2 2084.2 699.0 2085.7 705.0 2086.0 744.5 2011.0 779.9 1915.0 823.6 1846.0 853.9 1774.0 882.6 1633.0 927.8 1567.0 946.3 1501.0 962.3 1495.0 961.6 1493.1 960.0 1489.0 959.6 1486.0 961.5 1476.8 963.0 1474.0 965.0 1466.3 966.0 1462.0 968.2 1455.4 969.0 1453.0 970.9 1445.1 972.0 1441.0 974.2 1434.1 975.0 1432.0 976.8 1423.7 978.0 1420.0 980.1 1417.0 980.5 1406.5 993.0 1402.0 995.6 1312.0 1018.0 1210.0 1037.7 1186.3 1050.0 1102.0 1105.2 988.0 1149.9 931.0 1161.2 892.0 1165.8 865.0 1158.4 832.0 1152.0 802.0 1139.7 775.0 1123.5 742.0 1101.7 704.9 1065.0 673.0 1036.7 631.0 1021.3 592.0 1003.1 553.0 982.3 545.6 978.0 490.0 938.4 439.7 888.0 411.7 849.0 390.8 822.0 373.0 786.5 358.0 753.8 343.9 720.0 334.0 689.3 322.1 645.0 313.0 606.2 307.0 571.8 304.5 549.0 301.0 443.9 301.0 372.5 310.6 348.0 313.0 343.6 344.4 312.0 373.9 285.0 454.0 218.0 466.0 208.6 517.0 173.0ZM655.9 153.0 601.0 178.9 547.0 208.6 490.0 243.1 454.0 271.2 410.0 309.0 376.9 345.0 361.9 369.0 356.2 390.0 355.9 426.0 366.0 558.0 384.7 630.0 402.6 675.0 422.2 714.0 445.0 753.8 471.5 789.0 496.0 816.3 553.0 890.0 571.0 909.0 580.0 916.4 595.0 926.9 619.0 939.0 661.0 955.8 694.0 964.8 718.0 970.8 745.0 974.5 754.0 976.7 767.3 978.0 775.0 979.9 778.0 980.9 796.0 994.1 805.0 999.5 838.0 1005.5 946.0 1013.4 1003.0 1013.1 1111.0 1003.2 1177.0 994.9 1249.0 982.8 1258.0 980.4 1267.0 979.4 1270.0 978.0 1282.0 976.9 1289.3 975.0 1318.0 970.5 1375.0 957.7 1438.0 940.4 1558.0 911.4 1633.0 890.5 1774.0 842.6 1848.1 813.0 1918.0 782.2 1990.0 744.7 2044.1 720.0 2046.5 717.0 2047.2 714.0 2046.2 711.0 2032.0 679.3 1958.1 561.0 1900.0 505.4 1792.0 410.2 1789.0 407.8 1649.5 333.0 1525.0 273.0 1522.0 273.7 1519.0 273.0 1513.0 267.0 1480.0 251.0 1330.0 202.1 1210.0 153.0ZM295.0 393.1 295.7 396.0 296.4 468.0 296.4 495.0 295.0 498.0 292.0 495.0 292.0 393.1Z"/>
<path fill="#ff7000" stroke="#ff7000" stroke-width="0.7" fill-rule="evenodd" d="M679.0 147.0 1066.0 147.5 1210.0 147.0 1066.0 147.6ZM658.0 153.0 1210.0 153.0 1330.0 202.1 1480.0 251.0 1513.0 267.0 1519.0 273.0 1522.0 273.7 1525.0 273.0 1649.5 333.0 1789.0 407.8 1792.0 410.2 1900.0 505.4 1958.1 561.0 2032.0 679.3 2046.2 711.0 2047.2 714.0 2046.5 717.0 2044.1 720.0 1990.0 744.7 1918.0 782.2 1848.1 813.0 1774.0 842.6 1633.0 890.5 1558.0 911.4 1438.0 940.4 1375.0 957.7 1318.0 970.5 1289.3 975.0 1282.0 976.9 1270.0 978.0 1267.0 979.4 1258.0 980.4 1249.0 982.8 1177.0 994.9 1111.0 1003.2 1003.0 1013.1 946.0 1013.4 838.0 1005.5 805.0 999.5 796.0 994.1 778.0 980.9 775.0 979.9 767.3 978.0 754.0 976.7 745.0 974.5 718.0 970.8 694.0 964.8 661.0 955.8 619.0 939.0 595.0 926.9 580.0 916.4 571.0 909.0 553.0 890.0 496.0 816.3 471.5 789.0 445.0 753.8 422.2 714.0 402.6 675.0 384.7 630.0 366.0 558.0 355.9 426.0 356.2 390.0 361.9 369.0 376.9 345.0 412.0 307.1 454.0 271.2 484.0 247.6 493.0 241.1 547.0 208.6 601.0 178.9 652.0 154.6ZM725.2 153.0 602.3 210.0 547.6 240.0 505.0 268.5 473.5 294.0 445.0 325.9 424.9 360.0 419.3 378.0 418.5 384.0 416.6 426.0 420.8 483.0 434.6 555.0 445.0 597.0 459.1 639.0 480.3 684.0 505.4 723.0 533.1 759.0 562.0 790.7 625.0 848.0 661.0 878.4 706.0 899.6 748.0 916.2 803.7 933.0 862.0 944.8 889.0 948.8 946.0 954.5 1018.0 957.5 1090.0 956.1 1162.0 948.9 1234.0 940.1 1303.0 927.8 1375.0 912.0 1490.9 882.0 1501.0 880.8 1561.0 866.4 1633.0 844.8 1705.0 824.6 1792.0 795.1 1861.0 765.0 1918.0 736.5 1960.5 711.0 1975.3 702.0 1994.9 684.0 1995.3 681.0 1984.0 657.8 1969.5 633.0 1946.0 597.0 1924.0 559.8 1898.4 534.0 1791.8 435.0 1651.0 349.8 1521.8 282.0 1480.0 258.1 1402.0 231.8 1330.0 206.1 1294.0 189.9 1285.0 186.7 1282.0 184.6 1252.0 172.9 1249.0 170.6 1246.0 170.2 1207.0 153.0Z"/>
<path fill="#ff5000" stroke="#ff5000" stroke-width="0.7" fill-rule="evenodd" d="M757.0 147.0 1066.0 147.3 1207.0 147.0 1066.0 147.5ZM724.0 153.3 1207.0 153.0 1246.0 170.2 1249.0 170.6 1252.0 172.9 1282.0 184.6 1285.0 186.7 1294.0 189.9 1330.0 206.1 1402.0 231.8 1480.0 258.1 1521.8 282.0 1651.0 349.8 1791.8 435.0 1898.4 534.0 1924.0 559.8 1946.0 597.0 1969.5 633.0 1984.0 657.8 1995.3 681.0 1994.9 684.0 1975.3 702.0 1960.5 711.0 1918.0 736.5 1861.0 765.0 1792.0 795.1 1705.0 824.6 1633.0 844.8 1561.0 866.4 1501.0 880.8 1490.9 882.0 1375.0 912.0 1303.0 927.8 1234.0 940.1 1162.0 948.9 1090.0 956.1 1018.0 957.5 946.0 954.5 889.0 948.8 862.0 944.8 803.7 933.0 748.0 916.2 706.0 899.6 661.0 878.4 625.0 848.0 562.0 790.7 533.1 759.0 505.4 723.0 480.3 684.0 459.1 639.0 445.0 597.0 434.6 555.0 420.8 483.0 416.6 423.0 418.5 384.0 419.3 378.0 424.9 360.0 445.0 325.9 473.5 294.0 505.0 268.5 547.6 240.0 607.0 207.7 664.0 182.0ZM879.9 153.0 861.4 156.0 805.0 168.7 748.0 185.7 691.0 208.4 634.1 234.0 574.6 264.0 538.0 289.7 514.0 303.3 504.1 315.0 496.2 327.0 487.9 369.0 483.1 423.0 490.6 495.0 502.0 546.0 506.4 561.0 519.4 597.0 536.1 636.0 563.2 681.0 594.2 723.0 621.5 753.0 657.7 786.0 689.7 810.0 721.0 829.9 763.0 848.0 850.0 876.9 892.0 887.8 961.0 897.4 1033.0 901.8 1105.0 901.7 1174.0 896.3 1264.0 884.6 1285.0 881.7 1348.0 870.2 1417.0 853.7 1480.0 840.0 1504.0 837.0 1561.5 822.0 1705.0 776.1 1846.0 726.6 1904.3 696.0 1945.0 668.5 1945.7 666.0 1943.1 654.0 1929.8 627.0 1909.2 597.0 1887.4 561.0 1876.8 549.0 1789.4 459.0 1648.0 364.9 1522.0 288.5 1480.0 267.3 1402.0 239.3 1327.0 208.9 1306.0 198.6 1297.0 195.5 1294.0 192.9 1285.0 190.1 1282.0 187.3 1273.0 184.5 1270.0 182.2 1258.0 177.2 1252.0 176.2 1249.0 173.4 1240.0 170.9 1237.0 167.7 1228.0 165.1 1225.0 162.7 1219.0 160.9 1204.0 153.0Z"/>
<path fill="#ff2a00" stroke="#ff2a00" stroke-width="0.7" fill-rule="evenodd" d="M889.0 147.0 1066.0 147.2 1204.0 147.0 1066.0 147.3ZM880.0 153.0 1204.0 153.0 1219.0 160.9 1225.0 162.7 1228.0 165.1 1237.0 167.7 1240.0 170.9 1249.0 173.4 1252.0 176.2 1258.0 177.2 1270.0 182.2 1273.0 184.5 1282.0 187.3 1285.0 190.1 1294.0 192.9 1297.0 195.5 1306.0 198.6 1327.0 208.9 1402.0 239.3 1480.0 267.3 1522.0 288.5 1648.0 364.9 1789.4 459.0 1876.8 549.0 1887.4 561.0 1909.2 597.0 1929.8 627.0 1943.1 654.0 1945.7 666.0 1945.0 668.5 1904.3 696.0 1846.0 726.6 1705.0 776.1 1561.5 822.0 1504.0 837.0 1480.0 840.0 1417.0 853.7 1348.0 870.2 1285.0 881.7 1264.0 884.6 1174.0 896.3 1105.0 901.7 1033.0 901.8 961.0 897.4 892.0 887.8 850.0 876.9 763.0 848.0 721.0 829.9 689.7 810.0 657.7 786.0 621.5 753.0 594.2 723.0 563.2 681.0 536.1 636.0 519.4 597.0 506.4 561.0 502.0 546.0 490.6 495.0 483.1 423.0 487.9 369.0 496.2 327.0 504.1 315.0 514.0 303.3 538.0 289.7 574.6 264.0 634.1 234.0 691.0 208.4 748.0 185.7 805.0 168.7 861.4 156.0ZM1035.0 153.0 892.0 180.0 805.0 202.8 745.0 223.8 691.0 245.5 634.0 274.2 607.5 291.0 589.0 310.9 579.8 333.0 569.6 351.0 563.5 369.0 559.6 396.0 560.9 453.0 574.2 513.0 587.4 558.0 599.1 588.0 619.0 624.9 649.0 669.1 685.2 708.0 718.0 735.4 762.5 765.0 805.0 784.9 845.2 801.0 889.0 815.6 904.0 824.2 949.0 833.4 1003.0 840.2 1078.0 844.7 1147.0 843.3 1219.0 838.9 1288.0 829.3 1357.0 818.3 1474.0 796.4 1486.0 794.4 1498.0 793.7 1561.0 776.5 1702.0 731.3 1775.2 705.0 1834.0 678.3 1882.0 651.2 1885.0 647.8 1893.0 633.0 1882.0 606.9 1846.0 555.9 1789.0 486.7 1653.4 384.0 1520.8 300.0 1477.0 286.2 1440.3 276.0 1399.7 252.0 1331.7 216.0 1262.0 183.0 1252.0 180.0 1246.0 175.9 1240.0 174.4 1234.0 170.1 1228.0 168.8 1223.7 165.0 1216.0 163.0 1213.0 160.0 1210.0 159.0 1201.0 159.2 1200.0 153.0Z"/>
<path fill="#ff0a00" stroke="#ff0a00" stroke-width="0.7" fill-rule="evenodd" d="M1063.0 147.0 1069.0 147.0 1198.0 147.0 1066.0 147.2ZM1036.0 153.0 1199.9 153.0 1201.0 159.2 1210.0 159.0 1213.0 160.0 1216.0 163.0 1223.7 165.0 1228.0 168.8 1234.0 170.1 1240.0 174.4 1246.0 175.9 1252.0 180.0 1262.0 183.0 1331.7 216.0 1399.7 252.0 1440.3 276.0 1477.0 286.2 1520.8 300.0 1653.4 384.0 1789.0 486.7 1846.0 555.9 1882.0 606.9 1893.0 633.0 1885.0 647.8 1882.0 651.2 1834.0 678.3 1775.2 705.0 1702.0 731.3 1561.0 776.5 1498.0 793.7 1486.0 794.4 1474.0 796.4 1357.0 818.3 1288.0 829.3 1219.0 838.9 1147.0 843.3 1078.0 844.7 1003.0 840.2 949.0 833.4 904.0 824.2 889.0 815.6 845.2 801.0 805.0 784.9 762.5 765.0 718.0 735.4 685.2 708.0 649.0 669.1 619.0 624.9 599.1 588.0 587.4 558.0 574.2 513.0 560.9 453.0 559.6 396.0 563.5 369.0 569.6 351.0 579.8 333.0 589.0 310.9 607.5 291.0 634.0 274.2 691.0 245.5 745.0 223.8 805.0 202.8 892.0 180.0 967.0 165.3ZM1186.1 156.0 1183.0 156.8 1180.0 159.3 1174.0 160.3 1172.3 162.0 1162.0 163.0 1160.0 165.0 1150.0 166.0 1147.0 168.2 1138.0 168.7 1126.9 171.0 1069.0 178.8 976.0 194.1 895.0 213.3 847.0 222.9 790.0 237.3 731.8 261.0 689.3 285.0 669.6 306.0 655.1 330.0 642.4 369.0 641.2 411.0 641.0 426.0 650.4 480.0 664.0 533.1 685.0 559.8 705.0 594.0 735.6 633.0 775.0 669.5 818.8 699.0 862.0 722.1 892.0 736.6 940.0 755.8 1006.0 771.9 1088.6 783.0 1177.0 784.6 1261.0 777.6 1345.0 765.1 1432.0 747.8 1462.0 740.4 1468.0 739.8 1474.0 737.4 1480.0 736.8 1486.0 734.5 1495.0 734.4 1501.0 736.5 1516.0 738.9 1546.0 733.5 1714.0 677.8 1774.0 654.0 1816.0 628.9 1833.7 612.0 1834.0 609.0 1825.9 588.0 1810.0 561.4 1789.0 520.0 1647.9 411.0 1519.0 320.8 1438.0 287.3 1402.0 269.4 1330.0 222.1 1282.0 199.7 1218.8 168.0 1213.0 165.9 1198.0 165.3 1195.0 153.2 1189.0 153.5Z"/>
<path fill="#ff0000" stroke="#ff0000" stroke-width="0.7" fill-rule="evenodd" d="M1189.0 153.5 1195.0 153.2 1198.0 165.3 1213.0 165.9 1218.8 168.0 1282.0 199.7 1330.0 222.1 1402.0 269.4 1438.0 287.3 1519.0 320.8 1647.9 411.0 1789.0 520.0 1810.0 561.4 1825.9 588.0 1834.0 609.0 1833.7 612.0 1816.0 628.9 1774.0 654.0 1714.0 677.8 1546.0 733.5 1516.0 738.9 1501.0 736.5 1495.0 734.4 1486.0 734.5 1480.0 736.8 1474.0 737.4 1468.0 739.8 1462.0 740.4 1432.0 747.8 1345.0 765.1 1261.0 777.6 1177.0 784.6 1088.6 783.0 1006.0 771.9 940.0 755.8 892.0 736.6 862.0 722.1 818.8 699.0 775.0 669.5 735.6 633.0 705.0 594.0 685.0 559.8 664.0 533.1 650.4 480.0 641.0 426.0 641.2 411.0 642.4 369.0 655.1 330.0 669.6 306.0 689.3 285.0 731.8 261.0 790.0 237.3 847.0 222.9 895.0 213.3 976.0 194.1 1069.0 178.8 1126.9 171.0 1138.0 168.7 1147.0 168.2 1150.0 166.0 1160.0 165.0 1162.0 163.0 1172.3 162.0 1174.0 160.3 1180.0 159.3ZM1195.0 171.7 1174.0 180.3 1117.0 188.2 1069.0 196.3 997.0 210.9 991.2 213.0 982.0 214.3 964.6 219.0 931.0 226.1 914.6 231.0 818.0 255.0 785.5 273.0 769.0 287.7 754.3 309.0 746.8 327.0 742.0 354.9 731.1 396.0 733.8 438.0 747.8 495.0 766.0 535.0 790.0 558.7 819.6 591.0 856.0 622.0 880.0 637.7 946.0 666.9 1006.0 688.0 1060.0 704.2 1147.0 717.3 1234.0 718.9 1318.0 713.3 1405.0 698.8 1483.0 683.4 1504.0 681.3 1537.0 673.1 1714.0 621.0 1780.0 582.2 1774.0 560.6 1762.0 560.1 1759.0 558.2 1754.9 552.0 1749.4 546.0 1687.0 484.4 1633.0 436.2 1576.0 391.2 1546.0 369.3 1519.0 342.5 1441.0 300.8 1400.9 288.0 1327.0 229.4 1213.0 173.4 1210.0 172.5Z"/>
<path fill="#f00000" stroke="#f00000" stroke-width="0.7" fill-rule="evenodd" d="M1174.0 180.3 1195.0 171.7 1210.0 172.5 1213.0 173.4 1327.0 229.4 1400.9 288.0 1441.0 300.8 1519.0 342.5 1546.0 369.3 1576.0 391.2 1633.0 436.2 1687.0 484.4 1749.4 546.0 1754.9 552.0 1759.0 558.2 1762.0 560.1 1774.0 560.6 1780.0 582.2 1714.0 621.0 1537.0 673.1 1504.0 681.3 1483.0 683.4 1405.0 698.8 1318.0 713.3 1234.0 718.9 1147.0 717.3 1060.0 704.2 1006.0 688.0 946.0 666.9 880.0 637.7 856.0 622.0 819.6 591.0 790.0 558.7 766.0 535.0 747.8 495.0 733.8 438.0 731.1 396.0 742.0 354.9 746.8 327.0 754.3 309.0 769.0 287.7 785.5 273.0 818.0 255.0 914.6 231.0 931.0 226.1 964.6 219.0 982.0 214.3 991.2 213.0 997.0 210.9 1069.0 196.3 1117.0 188.2ZM1204.3 180.0 1180.0 185.6 1174.0 193.2 1123.0 200.5 1063.0 207.1 1057.0 208.8 1045.0 210.3 1039.0 212.2 1029.6 213.0 1021.0 215.4 1012.8 216.0 1006.0 218.1 997.6 219.0 991.0 221.5 982.0 222.5 979.0 224.2 971.1 225.0 964.0 227.5 955.0 228.6 952.0 230.3 943.0 231.3 931.0 235.4 914.5 243.0 890.7 258.0 868.0 279.0 853.0 299.5 839.4 336.0 833.9 375.0 833.7 378.0 842.3 423.0 854.8 462.0 866.8 486.0 891.2 519.0 907.5 543.0 928.0 566.5 946.5 579.0 969.9 591.0 1006.0 604.8 1063.0 624.6 1123.0 637.9 1177.0 644.6 1234.0 647.5 1288.0 646.2 1348.0 641.8 1405.0 634.6 1459.0 626.6 1489.0 620.4 1531.0 613.5 1576.0 602.0 1690.0 562.9 1699.0 558.8 1702.9 555.0 1706.7 546.0 1703.9 537.0 1690.0 519.0 1633.0 464.4 1582.0 421.9 1549.0 397.4 1543.0 390.3 1519.0 356.7 1439.6 315.0 1399.0 296.3 1330.0 239.5 1306.4 225.0 1210.0 179.9Z"/>
<path fill="#c80000" stroke="#c80000" stroke-width="0.7" fill-rule="evenodd" d="M1207.0 179.8 1210.0 179.9 1219.0 184.6 1223.6 186.0 1306.4 225.0 1330.0 239.5 1399.0 296.3 1439.6 315.0 1519.0 356.7 1543.0 390.3 1549.0 397.4 1582.0 421.9 1633.0 464.4 1690.0 519.0 1703.9 537.0 1706.7 546.0 1702.9 555.0 1699.0 558.8 1690.0 562.9 1576.0 602.0 1531.0 613.5 1489.0 620.4 1459.0 626.6 1405.0 634.6 1348.0 641.8 1288.0 646.2 1234.0 647.5 1177.0 644.6 1123.0 637.9 1063.0 624.6 1006.0 604.8 969.9 591.0 946.5 579.0 928.0 566.5 907.5 543.0 891.2 519.0 866.8 486.0 854.8 462.0 842.3 423.0 833.7 378.0 833.9 375.0 839.4 336.0 853.0 299.5 868.0 279.0 890.7 258.0 914.5 243.0 931.0 235.4 943.0 231.3 952.0 230.3 955.0 228.6 964.0 227.5 971.1 225.0 979.0 224.2 982.0 222.5 991.0 221.5 997.6 219.0 1006.0 218.1 1012.8 216.0 1021.0 215.4 1029.6 213.0 1039.0 212.2 1045.0 210.3 1057.0 208.8 1063.0 207.1 1123.0 200.5 1174.0 193.2 1180.0 185.6ZM1229.5 198.0 1204.0 198.7 1177.0 204.6 1174.0 206.0 1167.0 207.0 1088.5 228.0 1038.8 252.0 1016.6 264.0 996.8 279.0 977.4 300.0 963.7 327.0 960.3 354.0 960.3 366.0 970.7 405.0 979.3 426.0 994.0 450.7 1011.3 471.0 1030.0 486.9 1039.0 492.1 1042.1 495.0 1062.9 507.0 1115.1 531.0 1189.0 558.0 1246.0 568.4 1318.0 571.7 1390.0 568.8 1462.0 561.4 1489.0 552.1 1546.0 539.1 1576.0 529.5 1604.3 519.0 1624.0 508.6 1625.4 507.0 1628.8 501.0 1629.2 498.0 1624.0 485.4 1603.6 462.0 1576.1 435.0 1546.0 413.5 1519.0 374.9 1441.0 330.7 1399.0 305.5 1302.0 234.0 1279.0 223.7 1246.0 204.3 1234.0 200.6Z"/>
<path fill="#a80000" stroke="#a80000" stroke-width="0.7" fill-rule="evenodd" d="M1204.0 198.7 1229.5 198.0 1234.0 200.6 1246.0 204.3 1279.0 223.7 1302.0 234.0 1399.0 305.5 1441.0 330.7 1519.0 374.9 1546.0 413.5 1576.1 435.0 1603.6 462.0 1624.0 485.4 1629.2 498.0 1628.8 501.0 1625.4 507.0 1624.0 508.6 1604.3 519.0 1576.0 529.5 1546.0 539.1 1489.0 552.1 1462.0 561.4 1390.0 568.8 1318.0 571.7 1246.0 568.4 1189.0 558.0 1115.1 531.0 1062.9 507.0 1042.1 495.0 1039.0 492.1 1030.0 486.9 1011.3 471.0 994.0 450.7 979.3 426.0 970.7 405.0 960.3 366.0 960.3 354.0 963.7 327.0 977.4 300.0 996.8 279.0 1016.6 264.0 1038.8 252.0 1088.5 228.0 1179.4 204.0ZM1264.0 249.0 1237.0 254.2 1216.0 263.1 1186.0 278.0 1168.0 290.9 1165.0 294.3 1156.0 301.0 1141.8 321.0 1136.0 348.0 1136.7 366.0 1144.0 382.9 1149.6 393.0 1167.1 414.0 1207.0 440.6 1261.0 460.5 1318.0 471.0 1375.0 473.7 1432.0 470.2 1489.0 459.3 1503.1 453.0 1510.0 448.3 1519.0 444.8 1522.0 442.4 1523.5 438.0 1522.4 432.0 1513.5 420.0 1504.0 411.2 1491.7 396.0 1477.6 375.0 1447.0 351.7 1408.0 323.1 1354.0 288.5 1327.0 272.6 1318.0 264.9 1282.0 249.7 1279.0 248.8Z"/>
<path fill="#980000" stroke="#980000" stroke-width="0.7" fill-rule="evenodd" d="M1264.0 249.0 1279.0 248.8 1282.0 249.7 1318.0 264.9 1327.0 272.6 1354.0 288.5 1408.0 323.1 1447.0 351.7 1477.6 375.0 1491.7 396.0 1504.0 411.2 1513.5 420.0 1522.4 432.0 1523.5 438.0 1522.0 442.4 1519.0 444.8 1510.0 448.3 1503.1 453.0 1489.0 459.3 1432.0 470.2 1375.0 473.7 1318.0 471.0 1261.0 460.5 1207.0 440.6 1167.1 414.0 1149.6 393.0 1144.0 382.9 1136.7 366.0 1136.0 348.0 1141.8 321.0 1156.0 301.0 1165.0 294.3 1168.0 290.9 1186.0 278.0 1216.0 263.1 1237.0 254.2Z"/>
</g>
<text transform="translate(404,263) rotate(-43)" text-anchor="middle" y="18.3" font-size="53.5" textLength="72.3" lengthAdjust="spacingAndGlyphs">5.4</text>
<text transform="translate(376,344) rotate(-49)" text-anchor="middle" y="18.3" font-size="53.5" textLength="72.3" lengthAdjust="spacingAndGlyphs">5.6</text>
<text transform="translate(444,327) rotate(-52)" text-anchor="middle" y="18.3" font-size="53.5" textLength="72.3" lengthAdjust="spacingAndGlyphs">5.8</text>
<text transform="translate(538,288) rotate(-32)" text-anchor="middle" y="18.3" font-size="53.5" textLength="28.9" lengthAdjust="spacingAndGlyphs">6</text>
<text transform="translate(578,336) rotate(-67)" text-anchor="middle" y="18.3" font-size="53.5" textLength="72.3" lengthAdjust="spacingAndGlyphs">6.2</text>
<text transform="translate(687,286) rotate(-40)" text-anchor="middle" y="18.3" font-size="53.5" textLength="72.3" lengthAdjust="spacingAndGlyphs">6.4</text>
<text transform="translate(742,356) rotate(-80)" text-anchor="middle" y="18.3" font-size="53.5" textLength="72.3" lengthAdjust="spacingAndGlyphs">6.6</text>
<text transform="translate(1124,200) rotate(-5)" text-anchor="middle" y="18.3" font-size="53.5" textLength="72.3" lengthAdjust="spacingAndGlyphs">6.8</text>
<text transform="translate(1036,251) rotate(-22)" text-anchor="middle" y="18.3" font-size="53.5" textLength="28.9" lengthAdjust="spacingAndGlyphs">7</text>
<text transform="translate(1442,367) rotate(47)" text-anchor="middle" y="18.3" font-size="53.5" textLength="72.3" lengthAdjust="spacingAndGlyphs">7.2</text>
<text transform="translate(1296,470) rotate(18)" text-anchor="middle" y="18.3" font-size="53.5" textLength="72.3" lengthAdjust="spacingAndGlyphs">7.2</text>
<text transform="translate(1218,180) rotate(35)" text-anchor="middle" y="18.3" font-size="53.5" textLength="28.9" lengthAdjust="spacingAndGlyphs">6</text>
<text transform="translate(1238,195) rotate(35)" text-anchor="middle" y="18.3" font-size="53.5" textLength="72.3" lengthAdjust="spacingAndGlyphs">6.2</text>
<text transform="translate(1252,200) rotate(35)" text-anchor="middle" y="18.3" font-size="53.5" textLength="72.3" lengthAdjust="spacingAndGlyphs">6.4</text>
<text transform="translate(1262,212) rotate(35)" text-anchor="middle" y="18.3" font-size="53.5" textLength="72.3" lengthAdjust="spacingAndGlyphs">6.6</text>
<text transform="translate(1310,178) rotate(16)" text-anchor="middle" y="18.3" font-size="53.5" textLength="72.3" lengthAdjust="spacingAndGlyphs">4.4</text>
<text transform="translate(1403,185) rotate(15)" text-anchor="middle" y="18.3" font-size="53.5" textLength="72.3" lengthAdjust="spacingAndGlyphs">3.6</text>
<text transform="translate(1425,172) rotate(15)" text-anchor="middle" y="18.3" font-size="53.5" textLength="72.3" lengthAdjust="spacingAndGlyphs">3.4</text>
<text transform="translate(1436,176) rotate(15)" text-anchor="middle" y="18.3" font-size="53.5" textLength="72.3" lengthAdjust="spacingAndGlyphs">3.2</text>
<text transform="translate(1418,168) rotate(15)" text-anchor="middle" y="18.3" font-size="53.5" textLength="28.9" lengthAdjust="spacingAndGlyphs">3</text>
<text transform="translate(1440,180) rotate(15)" text-anchor="middle" y="18.3" font-size="53.5" textLength="72.3" lengthAdjust="spacingAndGlyphs">2.8</text>
<text transform="translate(1448,170) rotate(15)" text-anchor="middle" y="18.3" font-size="53.5" textLength="72.3" lengthAdjust="spacingAndGlyphs">2.6</text>
<text transform="translate(1452,178) rotate(12)" text-anchor="middle" y="18.3" font-size="53.5" textLength="72.3" lengthAdjust="spacingAndGlyphs">2.4</text>
<text transform="translate(1456,168) rotate(12)" text-anchor="middle" y="18.3" font-size="53.5" textLength="72.3" lengthAdjust="spacingAndGlyphs">2.2</text>
<text transform="translate(1462,172) rotate(12)" text-anchor="middle" y="18.3" font-size="53.5" textLength="28.9" lengthAdjust="spacingAndGlyphs">2</text>
<text transform="translate(1466,166) rotate(12)" text-anchor="middle" y="18.3" font-size="53.5" textLength="72.3" lengthAdjust="spacingAndGlyphs">1.8</text>
<text transform="translate(1410,215) rotate(12)" text-anchor="middle" y="18.3" font-size="53.5" textLength="72.3" lengthAdjust="spacingAndGlyphs">5.4</text>
<text transform="translate(1452,216) rotate(15)" text-anchor="middle" y="18.3" font-size="53.5" textLength="72.3" lengthAdjust="spacingAndGlyphs">4.6</text>
<text transform="translate(1472,234) rotate(30)" text-anchor="middle" y="18.3" font-size="53.5" textLength="72.3" lengthAdjust="spacingAndGlyphs">5.2</text>
<text transform="translate(1398,255) rotate(22)" text-anchor="middle" y="18.3" font-size="53.5" textLength="72.3" lengthAdjust="spacingAndGlyphs">5.6</text>
<text transform="translate(1430,262) rotate(22)" text-anchor="middle" y="18.3" font-size="53.5" textLength="72.3" lengthAdjust="spacingAndGlyphs">5.8</text>
<text transform="translate(1465,265) rotate(20)" text-anchor="middle" y="18.3" font-size="53.5" textLength="28.9" lengthAdjust="spacingAndGlyphs">6</text>
<text transform="translate(1540,215) rotate(15)" text-anchor="middle" y="18.3" font-size="53.5" textLength="72.3" lengthAdjust="spacingAndGlyphs">3.8</text>
<text transform="translate(1644,222) rotate(10)" text-anchor="middle" y="18.3" font-size="53.5" textLength="72.3" lengthAdjust="spacingAndGlyphs">3.4</text>
<text transform="translate(1627,245) rotate(20)" text-anchor="middle" y="18.3" font-size="53.5" textLength="28.9" lengthAdjust="spacingAndGlyphs">4</text>
<text transform="translate(1684,271) rotate(20)" text-anchor="middle" y="18.3" font-size="53.5" textLength="72.3" lengthAdjust="spacingAndGlyphs">4.2</text>
<text transform="translate(1585,266.5) rotate(16)" text-anchor="middle" y="18.3" font-size="53.5" textLength="72.3" lengthAdjust="spacingAndGlyphs">4.8</text>
<text transform="translate(1578,306) rotate(19)" text-anchor="middle" y="18.3" font-size="53.5" textLength="72.3" lengthAdjust="spacingAndGlyphs">5.4</text>
<text transform="translate(1867,338.5) rotate(20)" text-anchor="middle" y="18.3" font-size="53.5" textLength="72.3" lengthAdjust="spacingAndGlyphs">4.4</text>
<text transform="translate(1965,317.5) rotate(19)" text-anchor="middle" y="18.3" font-size="53.5" textLength="72.3" lengthAdjust="spacingAndGlyphs">3.6</text>
<text transform="translate(1989,440) rotate(40)" text-anchor="middle" y="18.3" font-size="53.5" textLength="72.3" lengthAdjust="spacingAndGlyphs">4.6</text>
<text transform="translate(1927,453) rotate(40)" text-anchor="middle" y="18.3" font-size="53.5" textLength="28.9" lengthAdjust="spacingAndGlyphs">5</text>
<text transform="translate(1975,523) rotate(42)" text-anchor="middle" y="18.3" font-size="53.5" textLength="72.3" lengthAdjust="spacingAndGlyphs">5.2</text>
<text transform="translate(1553,426) rotate(40)" text-anchor="middle" y="18.3" font-size="53.5" textLength="28.9" lengthAdjust="spacingAndGlyphs">7</text>
<text transform="translate(1630,468) rotate(40)" text-anchor="middle" y="18.3" font-size="53.5" textLength="72.3" lengthAdjust="spacingAndGlyphs">6.8</text>
<text transform="translate(1733,507) rotate(43)" text-anchor="middle" y="18.3" font-size="53.5" textLength="72.3" lengthAdjust="spacingAndGlyphs">6.4</text>
<text transform="translate(1768,498) rotate(46)" text-anchor="middle" y="18.3" font-size="53.5" textLength="72.3" lengthAdjust="spacingAndGlyphs">6.2</text>
<text transform="translate(1936,197) rotate(10)" text-anchor="middle" y="18.3" font-size="53.5" textLength="72.3" lengthAdjust="spacingAndGlyphs">1.6</text>
<text transform="translate(1922,192) rotate(10)" text-anchor="middle" y="18.3" font-size="53.5" textLength="72.3" lengthAdjust="spacingAndGlyphs">1.4</text>
<text transform="translate(1914,186) rotate(8)" text-anchor="middle" y="18.3" font-size="53.5" textLength="28.9" lengthAdjust="spacingAndGlyphs">1</text>
<text transform="translate(1996,212) rotate(20)" text-anchor="middle" y="18.3" font-size="53.5" textLength="72.3" lengthAdjust="spacingAndGlyphs">1.2</text>
<text transform="translate(2022,168) rotate(5)" text-anchor="middle" y="18.3" font-size="53.5" textLength="72.3" lengthAdjust="spacingAndGlyphs">0.6</text>
<text transform="translate(1990,166) rotate(5)" text-anchor="middle" y="18.3" font-size="53.5" textLength="72.3" lengthAdjust="spacingAndGlyphs">0.8</text>
<text transform="translate(1968,166) rotate(5)" text-anchor="middle" y="18.3" font-size="53.5" textLength="28.9" lengthAdjust="spacingAndGlyphs">1</text>
<text transform="translate(2016,222) rotate(20)" text-anchor="middle" y="18.3" font-size="53.5" textLength="28.9" lengthAdjust="spacingAndGlyphs">2</text>
<text transform="translate(2008,236) rotate(25)" text-anchor="middle" y="18.3" font-size="53.5" textLength="72.3" lengthAdjust="spacingAndGlyphs">2.2</text>
<text transform="translate(2016,248) rotate(28)" text-anchor="middle" y="18.3" font-size="53.5" textLength="72.3" lengthAdjust="spacingAndGlyphs">2.4</text>
<text transform="translate(2006,260) rotate(30)" text-anchor="middle" y="18.3" font-size="53.5" textLength="72.3" lengthAdjust="spacingAndGlyphs">2.6</text>
<text transform="translate(2014,272) rotate(32)" text-anchor="middle" y="18.3" font-size="53.5" textLength="72.3" lengthAdjust="spacingAndGlyphs">2.8</text>
<text transform="translate(2006,284) rotate(32)" text-anchor="middle" y="18.3" font-size="53.5" textLength="28.9" lengthAdjust="spacingAndGlyphs">3</text>
<text transform="translate(1999,301) rotate(26)" text-anchor="middle" y="18.3" font-size="53.5" textLength="72.3" lengthAdjust="spacingAndGlyphs">3.2</text>
<text transform="translate(2038,208) rotate(35)" text-anchor="middle" y="18.3" font-size="53.5" textLength="72.3" lengthAdjust="spacingAndGlyphs">1.8</text>
<text transform="translate(2040,228) rotate(40)" text-anchor="middle" y="18.3" font-size="53.5" textLength="28.9" lengthAdjust="spacingAndGlyphs">2</text>
<text transform="translate(1892,581) rotate(85)" text-anchor="middle" y="18.3" font-size="53.5" textLength="72.3" lengthAdjust="spacingAndGlyphs">5.6</text>
<text transform="translate(1926,574) rotate(85)" text-anchor="middle" y="18.3" font-size="53.5" textLength="72.3" lengthAdjust="spacingAndGlyphs">5.8</text>
<text transform="translate(1958,586) rotate(-35)" text-anchor="middle" y="18.3" font-size="53.5" textLength="28.9" lengthAdjust="spacingAndGlyphs">6</text>
<text transform="translate(1908,600) rotate(-30)" text-anchor="middle" y="18.3" font-size="53.5" textLength="28.9" lengthAdjust="spacingAndGlyphs">6</text>
<text transform="translate(416,856) rotate(52)" text-anchor="middle" y="18.3" font-size="53.5" textLength="72.3" lengthAdjust="spacingAndGlyphs">5.4</text>
<text transform="translate(365,904) rotate(54)" text-anchor="middle" y="18.3" font-size="53.5" textLength="72.3" lengthAdjust="spacingAndGlyphs">5.2</text>
<text transform="translate(581,921) rotate(32)" text-anchor="middle" y="18.3" font-size="53.5" textLength="72.3" lengthAdjust="spacingAndGlyphs">5.6</text>
<text transform="translate(661,881) rotate(30)" text-anchor="middle" y="18.3" font-size="53.5" textLength="72.3" lengthAdjust="spacingAndGlyphs">5.8</text>
<text transform="translate(717,830) rotate(27)" text-anchor="middle" y="18.3" font-size="53.5" textLength="28.9" lengthAdjust="spacingAndGlyphs">6</text>
<text transform="translate(342,986) rotate(56)" text-anchor="middle" y="18.3" font-size="53.5" textLength="28.9" lengthAdjust="spacingAndGlyphs">5</text>
<text transform="translate(882,816) rotate(20)" text-anchor="middle" y="18.3" font-size="53.5" textLength="72.3" lengthAdjust="spacingAndGlyphs">6.2</text>
<text transform="translate(940,757) rotate(24)" text-anchor="middle" y="18.3" font-size="53.5" textLength="72.3" lengthAdjust="spacingAndGlyphs">6.4</text>
<text transform="translate(1148,719) rotate(3)" text-anchor="middle" y="18.3" font-size="53.5" textLength="72.3" lengthAdjust="spacingAndGlyphs">6.6</text>
<text transform="translate(955,587) rotate(32)" text-anchor="middle" y="18.3" font-size="53.5" textLength="72.3" lengthAdjust="spacingAndGlyphs">6.8</text>
<text transform="translate(1455,808) rotate(-11)" text-anchor="middle" y="18.3" font-size="53.5" textLength="72.3" lengthAdjust="spacingAndGlyphs">6.2</text>
<text transform="translate(1284,883) rotate(-8)" text-anchor="middle" y="18.3" font-size="53.5" textLength="28.9" lengthAdjust="spacingAndGlyphs">6</text>
<text transform="translate(1233,941) rotate(-4)" text-anchor="middle" y="18.3" font-size="53.5" textLength="72.3" lengthAdjust="spacingAndGlyphs">5.8</text>
<text transform="translate(1462,977) rotate(-10)" text-anchor="middle" y="18.3" font-size="53.5" textLength="72.3" lengthAdjust="spacingAndGlyphs">5.4</text>
<text transform="translate(1327,571) rotate(4)" text-anchor="middle" y="18.3" font-size="53.5" textLength="28.9" lengthAdjust="spacingAndGlyphs">7</text>
<text transform="translate(1527,621) rotate(-8)" text-anchor="middle" y="18.3" font-size="53.5" textLength="72.3" lengthAdjust="spacingAndGlyphs">6.8</text>
<text transform="translate(1716,622) rotate(-19)" text-anchor="middle" y="18.3" font-size="53.5" textLength="72.3" lengthAdjust="spacingAndGlyphs">6.6</text>
<text transform="translate(1519,740) rotate(-15)" text-anchor="middle" y="18.3" font-size="53.5" textLength="72.3" lengthAdjust="spacingAndGlyphs">6.4</text>
<text transform="translate(1847,727) rotate(-22)" text-anchor="middle" y="18.3" font-size="53.5" textLength="28.9" lengthAdjust="spacingAndGlyphs">6</text>
<text transform="translate(1793,796) rotate(-21)" text-anchor="middle" y="18.3" font-size="53.5" textLength="72.3" lengthAdjust="spacingAndGlyphs">5.8</text>
<text transform="translate(1710,866) rotate(-20)" text-anchor="middle" y="18.3" font-size="53.5" textLength="72.3" lengthAdjust="spacingAndGlyphs">5.6</text>
<text transform="translate(2012,779) rotate(-23)" text-anchor="middle" y="18.3" font-size="53.5" textLength="72.3" lengthAdjust="spacingAndGlyphs">5.4</text>
<text transform="translate(1687,957) rotate(-17)" text-anchor="middle" y="18.3" font-size="53.5" textLength="72.3" lengthAdjust="spacingAndGlyphs">5.2</text>
<text transform="translate(1717,973) rotate(-20)" text-anchor="middle" y="18.3" font-size="53.5" textLength="28.9" lengthAdjust="spacingAndGlyphs">5</text>
<text transform="translate(324,1177) rotate(81)" text-anchor="middle" y="18.3" font-size="53.5" textLength="72.3" lengthAdjust="spacingAndGlyphs">4.8</text>
<text transform="translate(1148,1003) rotate(0)" text-anchor="middle" y="18.3" font-size="53.5" textLength="72.3" lengthAdjust="spacingAndGlyphs">5.6</text>
<text transform="translate(918,1169) rotate(0)" text-anchor="middle" y="18.3" font-size="53.5" textLength="72.3" lengthAdjust="spacingAndGlyphs">5.4</text>
<text transform="translate(1198,1262) rotate(-42)" text-anchor="middle" y="18.3" font-size="53.5" textLength="72.3" lengthAdjust="spacingAndGlyphs">5.2</text>
<text transform="translate(1302,1393) rotate(-60)" text-anchor="middle" y="18.3" font-size="53.5" textLength="28.9" lengthAdjust="spacingAndGlyphs">5</text>
<text transform="translate(1942,1026) rotate(-25)" text-anchor="middle" y="18.3" font-size="53.5" textLength="72.3" lengthAdjust="spacingAndGlyphs">4.2</text>
<text transform="translate(1995,1046) rotate(-60)" text-anchor="middle" y="18.3" font-size="53.5" textLength="28.9" lengthAdjust="spacingAndGlyphs">4</text>
<text transform="translate(1572,1163) rotate(-56)" text-anchor="middle" y="18.3" font-size="53.5" textLength="72.3" lengthAdjust="spacingAndGlyphs">4.8</text>
<text transform="translate(1690,1146) rotate(-58)" text-anchor="middle" y="18.3" font-size="53.5" textLength="72.3" lengthAdjust="spacingAndGlyphs">4.6</text>
<text transform="translate(1801,1109) rotate(-60)" text-anchor="middle" y="18.3" font-size="53.5" textLength="72.3" lengthAdjust="spacingAndGlyphs">4.4</text>
<text transform="translate(708,1434) rotate(45)" text-anchor="middle" y="18.3" font-size="53.5" textLength="72.3" lengthAdjust="spacingAndGlyphs">5.2</text>
<text transform="translate(530,1615) rotate(75)" text-anchor="middle" y="18.3" font-size="53.5" textLength="28.9" lengthAdjust="spacingAndGlyphs">5</text>
<text transform="translate(1312,1761) rotate(-67)" text-anchor="middle" y="18.3" font-size="53.5" textLength="72.3" lengthAdjust="spacingAndGlyphs">4.8</text>
<text transform="translate(1459,1762) rotate(-66)" text-anchor="middle" y="18.3" font-size="53.5" textLength="72.3" lengthAdjust="spacingAndGlyphs">4.6</text>
<text transform="translate(1589,1736) rotate(-66)" text-anchor="middle" y="18.3" font-size="53.5" textLength="72.3" lengthAdjust="spacingAndGlyphs">4.4</text>
<text transform="translate(1716,1633) rotate(-72)" text-anchor="middle" y="18.3" font-size="53.5" textLength="72.3" lengthAdjust="spacingAndGlyphs">4.2</text>
<text transform="translate(1798,1682) rotate(-70)" text-anchor="middle" y="18.3" font-size="53.5" textLength="28.9" lengthAdjust="spacingAndGlyphs">4</text>
<text transform="translate(1890,1675) rotate(-76)" text-anchor="middle" y="18.3" font-size="53.5" textLength="72.3" lengthAdjust="spacingAndGlyphs">3.8</text>
<text transform="translate(1966,1718) rotate(-76)" text-anchor="middle" y="18.3" font-size="53.5" textLength="72.3" lengthAdjust="spacingAndGlyphs">3.6</text>
<text transform="translate(2053,1652) rotate(-76)" text-anchor="middle" y="18.3" font-size="53.5" textLength="72.3" lengthAdjust="spacingAndGlyphs">3.4</text>
<rect x="297.5" y="149.5" width="1784.5" height="1651.8" fill="none" stroke="#000" stroke-width="1.4"/>
<path d="M551.8 1801.3v-18M551.8 149.5v18M805.8 1801.3v-18M805.8 149.5v18M1059.5 1801.3v-18M1059.5 149.5v18M1316.5 1801.3v-18M1316.5 149.5v18M1570.5 1801.3v-18M1570.5 149.5v18M1823.8 1801.3v-18M1823.8 149.5v18M297.5 302.8h18M2082.0 302.8h-18M297.5 468.7h18M2082.0 468.7h-18M297.5 634.0h18M2082.0 634.0h-18M297.5 801.5h18M2082.0 801.5h-18M297.5 967.5h18M2082.0 967.5h-18M297.5 1132.8h18M2082.0 1132.8h-18M297.5 1301.0h18M2082.0 1301.0h-18M297.5 1466.8h18M2082.0 1466.8h-18M297.5 1632.5h18M2082.0 1632.5h-18" stroke="#000" stroke-width="1.4" fill="none"/>
<text class="b" x="297.5" y="1877.5" font-size="73" text-anchor="middle" textLength="78.2" lengthAdjust="spacingAndGlyphs">30</text>
<text class="b" x="551.8" y="1877.5" font-size="73" text-anchor="middle" textLength="78.2" lengthAdjust="spacingAndGlyphs">40</text>
<text class="b" x="805.8" y="1877.5" font-size="73" text-anchor="middle" textLength="78.2" lengthAdjust="spacingAndGlyphs">50</text>
<text class="b" x="1059.5" y="1877.5" font-size="73" text-anchor="middle" textLength="78.2" lengthAdjust="spacingAndGlyphs">60</text>
<text class="b" x="1316.5" y="1877.5" font-size="73" text-anchor="middle" textLength="78.2" lengthAdjust="spacingAndGlyphs">70</text>
<text class="b" x="1570.5" y="1877.5" font-size="73" text-anchor="middle" textLength="78.2" lengthAdjust="spacingAndGlyphs">80</text>
<text class="b" x="1823.8" y="1877.5" font-size="73" text-anchor="middle" textLength="78.2" lengthAdjust="spacingAndGlyphs">90</text>
<text class="b" x="2082.0" y="1877.5" font-size="73" text-anchor="middle" textLength="117.3" lengthAdjust="spacingAndGlyphs">100</text>
<text class="b" x="283.3" y="325.3" font-size="73" text-anchor="end" textLength="78.2" lengthAdjust="spacingAndGlyphs">90</text>
<text class="b" x="283.3" y="491.2" font-size="73" text-anchor="end" textLength="78.2" lengthAdjust="spacingAndGlyphs">80</text>
<text class="b" x="283.3" y="656.5" font-size="73" text-anchor="end" textLength="78.2" lengthAdjust="spacingAndGlyphs">70</text>
<text class="b" x="283.3" y="824.0" font-size="73" text-anchor="end" textLength="78.2" lengthAdjust="spacingAndGlyphs">60</text>
<text class="b" x="283.3" y="990.0" font-size="73" text-anchor="end" textLength="78.2" lengthAdjust="spacingAndGlyphs">50</text>
<text class="b" x="283.3" y="1155.3" font-size="73" text-anchor="end" textLength="78.2" lengthAdjust="spacingAndGlyphs">40</text>
<text class="b" x="283.3" y="1323.5" font-size="73" text-anchor="end" textLength="78.2" lengthAdjust="spacingAndGlyphs">30</text>
<text class="b" x="283.3" y="1489.3" font-size="73" text-anchor="end" textLength="78.2" lengthAdjust="spacingAndGlyphs">20</text>
<text class="b" x="283.3" y="1655.0" font-size="73" text-anchor="end" textLength="78.2" lengthAdjust="spacingAndGlyphs">10</text>
<text class="b" x="283.3" y="1822.5" font-size="73" text-anchor="end" textLength="39.1" lengthAdjust="spacingAndGlyphs">0</text>
<text class="b" x="744.5" y="97.5" font-size="86.5" text-anchor="start" textLength="851.0" lengthAdjust="spacingAndGlyphs">Energy Density, MJ/m</text>
<text class="b" x="1588.5" y="61.8" font-size="65.5" text-anchor="start" textLength="35.0" lengthAdjust="spacingAndGlyphs">3</text>
<text class="b" x="808.3" y="1968" font-size="86.5" text-anchor="start" textLength="754.0" lengthAdjust="spacingAndGlyphs">Initial Pressure, bar</text>
<g transform="translate(123,1614) rotate(-90)"><text class="b" x="0" y="0" font-size="86.5" text-anchor="start" textLength="583.0" lengthAdjust="spacingAndGlyphs">Initial Total CO</text></g>
<g transform="translate(163.1,1041.5) rotate(-90)"><text class="b" x="0" y="0" font-size="64.5" text-anchor="start" textLength="35.0" lengthAdjust="spacingAndGlyphs">2</text></g>
<g transform="translate(123,984) rotate(-90)"><text class="b" x="0" y="0" font-size="86.5" text-anchor="start" textLength="657.0" lengthAdjust="spacingAndGlyphs">Mole Fraction, %</text></g>
<rect x="2162.3" y="1779.59" width="104.5" height="26.31" fill="#00008f" shape-rendering="crispEdges"/>
<rect x="2162.3" y="1753.78" width="104.5" height="26.31" fill="#00009f" shape-rendering="crispEdges"/>
<rect x="2162.3" y="1727.97" width="104.5" height="26.31" fill="#0000af" shape-rendering="crispEdges"/>
<rect x="2162.3" y="1702.16" width="104.5" height="26.31" fill="#0000bf" shape-rendering="crispEdges"/>
<rect x="2162.3" y="1676.35" width="104.5" height="26.31" fill="#0000cf" shape-rendering="crispEdges"/>
<rect x="2162.3" y="1650.54" width="104.5" height="26.31" fill="#0000df" shape-rendering="crispEdges"/>
<rect x="2162.3" y="1624.73" width="104.5" height="26.31" fill="#0000ef" shape-rendering="crispEdges"/>
<rect x="2162.3" y="1598.93" width="104.5" height="26.31" fill="#0000ff" shape-rendering="crispEdges"/>
<rect x="2162.3" y="1573.12" width="104.5" height="26.31" fill="#0010ff" shape-rendering="crispEdges"/>
<rect x="2162.3" y="1547.31" width="104.5" height="26.31" fill="#0020ff" shape-rendering="crispEdges"/>
<rect x="2162.3" y="1521.50" width="104.5" height="26.31" fill="#0030ff" shape-rendering="crispEdges"/>
<rect x="2162.3" y="1495.69" width="104.5" height="26.31" fill="#0040ff" shape-rendering="crispEdges"/>
<rect x="2162.3" y="1469.88" width="104.5" height="26.31" fill="#0050ff" shape-rendering="crispEdges"/>
<rect x="2162.3" y="1444.07" width="104.5" height="26.31" fill="#0060ff" shape-rendering="crispEdges"/>
<rect x="2162.3" y="1418.26" width="104.5" height="26.31" fill="#0070ff" shape-rendering="crispEdges"/>
<rect x="2162.3" y="1392.45" width="104.5" height="26.31" fill="#0080ff" shape-rendering="crispEdges"/>
<rect x="2162.3" y="1366.64" width="104.5" height="26.31" fill="#008fff" shape-rendering="crispEdges"/>
<rect x="2162.3" y="1340.83" width="104.5" height="26.31" fill="#009fff" shape-rendering="crispEdges"/>
<rect x="2162.3" y="1315.02" width="104.5" height="26.31" fill="#00afff" shape-rendering="crispEdges"/>
<rect x="2162.3" y="1289.21" width="104.5" height="26.31" fill="#00bfff" shape-rendering="crispEdges"/>
<rect x="2162.3" y="1263.40" width="104.5" height="26.31" fill="#00cfff" shape-rendering="crispEdges"/>
<rect x="2162.3" y="1237.59" width="104.5" height="26.31" fill="#00dfff" shape-rendering="crispEdges"/>
<rect x="2162.3" y="1211.78" width="104.5" height="26.31" fill="#00efff" shape-rendering="crispEdges"/>
<rect x="2162.3" y="1185.97" width="104.5" height="26.31" fill="#00ffff" shape-rendering="crispEdges"/>
<rect x="2162.3" y="1160.17" width="104.5" height="26.31" fill="#00fff0" shape-rendering="crispEdges"/>
<rect x="2162.3" y="1134.36" width="104.5" height="26.31" fill="#00ffe2" shape-rendering="crispEdges"/>
<rect x="2162.3" y="1108.55" width="104.5" height="26.31" fill="#00ffd2" shape-rendering="crispEdges"/>
<rect x="2162.3" y="1082.74" width="104.5" height="26.31" fill="#00ffc2" shape-rendering="crispEdges"/>
<rect x="2162.3" y="1056.93" width="104.5" height="26.31" fill="#00ffb0" shape-rendering="crispEdges"/>
<rect x="2162.3" y="1031.12" width="104.5" height="26.31" fill="#00ffa0" shape-rendering="crispEdges"/>
<rect x="2162.3" y="1005.31" width="104.5" height="26.31" fill="#00ff88" shape-rendering="crispEdges"/>
<rect x="2162.3" y="979.50" width="104.5" height="26.31" fill="#00ff70" shape-rendering="crispEdges"/>
<rect x="2162.3" y="953.69" width="104.5" height="26.31" fill="#00ff60" shape-rendering="crispEdges"/>
<rect x="2162.3" y="927.88" width="104.5" height="26.31" fill="#58ff50" shape-rendering="crispEdges"/>
<rect x="2162.3" y="902.07" width="104.5" height="26.31" fill="#80ff38" shape-rendering="crispEdges"/>
<rect x="2162.3" y="876.26" width="104.5" height="26.31" fill="#a0ff18" shape-rendering="crispEdges"/>
<rect x="2162.3" y="850.45" width="104.5" height="26.31" fill="#b8ff00" shape-rendering="crispEdges"/>
<rect x="2162.3" y="824.64" width="104.5" height="26.31" fill="#d0ff00" shape-rendering="crispEdges"/>
<rect x="2162.3" y="798.83" width="104.5" height="26.31" fill="#e8ff00" shape-rendering="crispEdges"/>
<rect x="2162.3" y="773.03" width="104.5" height="26.31" fill="#ffff00" shape-rendering="crispEdges"/>
<rect x="2162.3" y="747.22" width="104.5" height="26.31" fill="#ffef00" shape-rendering="crispEdges"/>
<rect x="2162.3" y="721.41" width="104.5" height="26.31" fill="#ffdf00" shape-rendering="crispEdges"/>
<rect x="2162.3" y="695.60" width="104.5" height="26.31" fill="#ffcf00" shape-rendering="crispEdges"/>
<rect x="2162.3" y="669.79" width="104.5" height="26.31" fill="#ffbf00" shape-rendering="crispEdges"/>
<rect x="2162.3" y="643.98" width="104.5" height="26.31" fill="#ffaf00" shape-rendering="crispEdges"/>
<rect x="2162.3" y="618.17" width="104.5" height="26.31" fill="#ff9f00" shape-rendering="crispEdges"/>
<rect x="2162.3" y="592.36" width="104.5" height="26.31" fill="#ff8f00" shape-rendering="crispEdges"/>
<rect x="2162.3" y="566.55" width="104.5" height="26.31" fill="#ff8000" shape-rendering="crispEdges"/>
<rect x="2162.3" y="540.74" width="104.5" height="26.31" fill="#ff7000" shape-rendering="crispEdges"/>
<rect x="2162.3" y="514.93" width="104.5" height="26.31" fill="#ff6000" shape-rendering="crispEdges"/>
<rect x="2162.3" y="489.12" width="104.5" height="26.31" fill="#ff5000" shape-rendering="crispEdges"/>
<rect x="2162.3" y="463.31" width="104.5" height="26.31" fill="#ff4000" shape-rendering="crispEdges"/>
<rect x="2162.3" y="437.50" width="104.5" height="26.31" fill="#ff2a00" shape-rendering="crispEdges"/>
<rect x="2162.3" y="411.69" width="104.5" height="26.31" fill="#ff1a00" shape-rendering="crispEdges"/>
<rect x="2162.3" y="385.88" width="104.5" height="26.31" fill="#ff0a00" shape-rendering="crispEdges"/>
<rect x="2162.3" y="360.07" width="104.5" height="26.31" fill="#ff0000" shape-rendering="crispEdges"/>
<rect x="2162.3" y="334.27" width="104.5" height="26.31" fill="#ff0000" shape-rendering="crispEdges"/>
<rect x="2162.3" y="308.46" width="104.5" height="26.31" fill="#ff0000" shape-rendering="crispEdges"/>
<rect x="2162.3" y="282.65" width="104.5" height="26.31" fill="#f00000" shape-rendering="crispEdges"/>
<rect x="2162.3" y="256.84" width="104.5" height="26.31" fill="#d80000" shape-rendering="crispEdges"/>
<rect x="2162.3" y="231.03" width="104.5" height="26.31" fill="#c80000" shape-rendering="crispEdges"/>
<rect x="2162.3" y="205.22" width="104.5" height="26.31" fill="#b80000" shape-rendering="crispEdges"/>
<rect x="2162.3" y="179.41" width="104.5" height="26.31" fill="#a80000" shape-rendering="crispEdges"/>
<rect x="2162.3" y="153.60" width="104.5" height="26.31" fill="#980000" shape-rendering="crispEdges"/>
<rect x="2162.3" y="153.6" width="104.5" height="1651.8" fill="none" stroke="#000" stroke-width="1.4"/>
<text class="b" x="2278" y="1679.0" font-size="73" text-anchor="start" textLength="39.1" lengthAdjust="spacingAndGlyphs">1</text>
<text class="b" x="2278" y="1436.5" font-size="73" text-anchor="start" textLength="39.1" lengthAdjust="spacingAndGlyphs">2</text>
<text class="b" x="2278" y="1193.9" font-size="73" text-anchor="start" textLength="39.1" lengthAdjust="spacingAndGlyphs">3</text>
<text class="b" x="2278" y="951.4" font-size="73" text-anchor="start" textLength="39.1" lengthAdjust="spacingAndGlyphs">4</text>
<text class="b" x="2278" y="708.8" font-size="73" text-anchor="start" textLength="39.1" lengthAdjust="spacingAndGlyphs">5</text>
<text class="b" x="2278" y="466.3" font-size="73" text-anchor="start" textLength="39.1" lengthAdjust="spacingAndGlyphs">6</text>
<path d="M2162.3 1657.4h16M2266.8 1657.4h-16M2162.3 1414.9h16M2266.8 1414.9h-16M2162.3 1172.3h16M2266.8 1172.3h-16M2162.3 929.8h16M2266.8 929.8h-16M2162.3 687.2h16M2266.8 687.2h-16M2162.3 444.7h16M2266.8 444.7h-16" stroke="#000" stroke-width="1.4" fill="none"/>
<text class="b" x="2278" y="174.8" font-size="73" text-anchor="start" textLength="97.7" lengthAdjust="spacingAndGlyphs">7.2</text>
<text class="b" x="2278" y="1828.6" font-size="73" text-anchor="start" textLength="136.8" lengthAdjust="spacingAndGlyphs">0.39</text>
</svg></body></html>
